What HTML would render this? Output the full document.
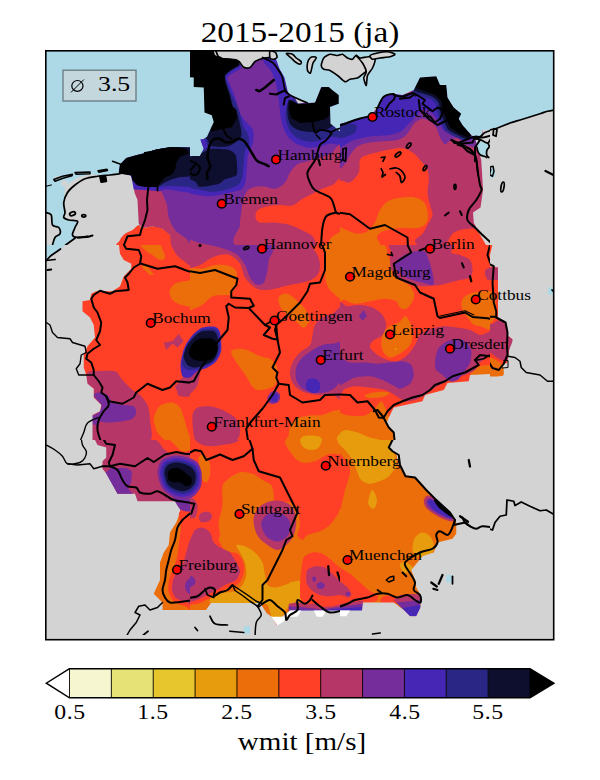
<!DOCTYPE html>
<html><head><meta charset="utf-8"><title>map</title>
<style>
html,body{margin:0;padding:0;background:#fff;}
body{width:600px;height:780px;position:relative;overflow:hidden;font-family:"Liberation Serif",serif;color:#000;}
#ttl{transform:scaleX(1.147);transform-origin:50% 50%;position:absolute;left:0.3px;width:600px;top:17.3px;text-align:center;font-size:29px;letter-spacing:0px;line-height:30px;white-space:nowrap;}
svg{position:absolute;left:0;top:0;}
.tk{transform:scaleX(1.17);transform-origin:50% 50%;position:absolute;top:701.3px;width:60px;text-align:center;font-size:20.3px;letter-spacing:0.5px;line-height:22px;}
#lab{transform:scaleX(1.118);transform-origin:50% 50%;position:absolute;left:1.5px;width:600px;top:727.2px;text-align:center;font-size:26px;letter-spacing:0px;line-height:30px;}
#box{position:absolute;left:63.9px;top:71.1px;width:71.2px;height:29.0px;}
#box span{position:absolute;top:1.4px;line-height:24px;font-size:21.5px;white-space:nowrap;}
.ct{font-family:"Liberation Serif",serif;font-size:15px;letter-spacing:0px;}
</style></head><body>
<div id="ttl">2015-2015 (ja)</div>
<svg width="600" height="780" viewBox="0 0 600 780">
<defs><clipPath id="ax"><rect x="45.8" y="50.8" width="507.9" height="588.9"/></clipPath></defs>
<g clip-path="url(#ax)">
<rect x="40" y="45" width="520" height="600" fill="#d3d3d3"/>
<clipPath id="t1"><rect x="40" y="50" width="150" height="195"/></clipPath><g clip-path="url(#t1)"><rect x="40" y="50" width="150" height="195" fill="#add8e6"/><g transform="translate(40,50) scale(0.25)"><path d="M100.0 545.0 L150.0 510.0 L200.0 497.0 L260.0 503.0 L330.0 495.0 L375.0 505.0 L385.0 570.0 L395.0 600.0 L395.0 790.0 L80.0 790.0 L141.0 752.0 L130.0 740.0 L145.0 700.0 L150.0 685.0 L100.0 675.0 L95.0 610.0Z" fill="#d3d3d3" stroke="none" stroke-width="0" />
<path d="M25.0 650.0 L45.0 660.0 L50.0 700.0 L75.0 710.0 L80.0 735.0 L60.0 750.0 L50.0 780.0 L25.0 780.0Z" fill="#d3d3d3" stroke="none" stroke-width="0" />
<rect x="85" y="522" width="25" height="22" fill="#d3d3d3"/>
<rect x="60" y="505" width="20" height="12" fill="#d3d3d3"/>
<path d="M395.0 700.0 C401.7 698.7 400.8 711.2 410.0 712.0 C419.2 712.8 436.7 704.5 450.0 705.0 C463.3 705.5 478.3 709.2 490.0 715.0 C501.7 720.8 513.3 727.5 520.0 740.0 C526.7 752.5 563.3 781.7 530.0 790.0 C496.7 798.3 355.0 795.0 320.0 790.0 C285.0 785.0 316.7 769.2 320.0 760.0 C323.3 750.8 331.7 741.7 340.0 735.0 C348.3 728.3 360.8 725.8 370.0 720.0 C379.2 714.2 388.3 701.3 395.0 700.0Z" fill="#ff4026" stroke="none" stroke-width="0" />
<path d="M375.0 545.0 L480.0 545.0 L610.0 545.0 L610.0 785.0 L525.0 785.0 L520.0 740.0 L490.0 715.0 L450.0 705.0 L410.0 712.0 L395.0 695.0 L390.0 600.0 L378.0 570.0Z" fill="#b53667" stroke="none" stroke-width="0" />
<path d="M478.0 555.0 C482.3 551.0 509.1 544.0 520.0 540.0 C530.9 536.0 546.7 526.3 560.0 525.0 C573.3 523.7 612.0 496.7 620.0 530.0 C628.0 563.3 625.3 745.7 620.0 775.0 C614.7 804.3 590.7 757.3 580.0 750.0 C569.3 742.7 548.7 730.7 540.0 720.0 C531.3 709.3 519.3 683.3 515.0 670.0 C510.7 656.7 510.0 629.3 508.0 620.0 C506.0 610.7 502.7 606.7 500.0 600.0 C497.3 593.3 490.9 576.0 488.0 570.0 C485.1 564.0 473.7 559.0 478.0 555.0Z" fill="#762d9c" stroke="none" stroke-width="0" />
<path d="M315.0 490.0 L320.0 458.0 L345.0 432.0 L380.0 422.0 L420.0 412.0 L465.0 398.0 L525.0 388.0 L610.0 390.0 L610.0 572.0 L560.0 566.0 L530.0 560.0 L500.0 557.0 L478.0 565.0 L420.0 560.0 L375.0 558.0 L368.0 520.0 L363.0 502.0Z" fill="#4626b4" stroke="none" stroke-width="0" />
<path d="M470.0 550.0 L490.0 546.0 L520.0 544.0 L560.0 546.0 L610.0 547.0 L610.0 390.0 L525.0 388.0 L465.0 398.0 L420.0 412.0 L420.0 545.0Z" fill="#2a2685" stroke="none" stroke-width="0" />
<path d="M475.0 545.0 L495.0 532.0 L525.0 518.0 L560.0 508.0 L610.0 506.0 L610.0 390.0 L525.0 388.0 L465.0 398.0 L420.0 412.0 L420.0 545.0Z" fill="#0e0e2e" stroke="none" stroke-width="0" />
<path d="M315.0 490.0 L320.0 458.0 L345.0 432.0 L380.0 422.0 L420.0 412.0 L465.0 398.0 L525.0 388.0 L585.0 393.0 L595.0 415.0 L562.0 426.0 L546.0 448.0 L540.0 480.0 L525.0 500.0 L500.0 510.0 L480.0 532.0 L470.0 548.0 L420.0 548.0 L390.0 542.0 L370.0 522.0 L365.0 502.0 L320.0 495.0Z" fill="#000000" stroke="none" stroke-width="0" />
<path d="M435 540 L432 560 L428 600 L430 640 L420 680 L405 720 L400 740 L350 745 L335 782" fill="none" stroke="#000" stroke-width="8" stroke-linejoin="round" stroke-linecap="round"/>
<path d="M470 540 L470 562" fill="none" stroke="#000" stroke-width="7" stroke-linejoin="round" stroke-linecap="round"/>
<path d="M320.0 495.0 C313.3 495.8 295.0 498.3 280.0 500.0 C265.0 501.7 246.7 502.5 230.0 505.0 C213.3 507.5 195.0 509.2 180.0 515.0 C165.0 520.8 151.7 530.8 140.0 540.0 C128.3 549.2 117.5 558.3 110.0 570.0 C102.5 581.7 96.7 596.7 95.0 610.0 C93.3 623.3 100.0 640.0 100.0 650.0 C100.0 660.0 92.5 665.0 95.0 670.0 C97.5 675.0 105.8 677.5 115.0 680.0 C124.2 682.5 145.8 680.0 150.0 685.0 C154.2 690.0 143.3 700.8 140.0 710.0 C136.7 719.2 128.3 733.3 130.0 740.0 C131.7 746.7 140.0 749.2 150.0 750.0 C160.0 750.8 183.3 745.8 190.0 745.0" fill="none" stroke="#000" stroke-width="7" stroke-linejoin="round" stroke-linecap="round"/>
<path d="M240 505 L262 508 L265 525 L245 528Z" fill="#000" stroke="#000" stroke-width="8" stroke-linejoin="round" stroke-linecap="round"/>
<path d="M25 545 L45 540" fill="none" stroke="#000" stroke-width="5" stroke-linejoin="round" stroke-linecap="round"/>
<path d="M290 445 L325 458" fill="none" stroke="#000" stroke-width="6" stroke-linejoin="round" stroke-linecap="round"/>
<path d="M55 518 L90 505 L130 497 L128 503 L95 512 L60 525Z" fill="none" stroke="#000" stroke-width="6" stroke-linejoin="round" stroke-linecap="round"/>
<path d="M140 490 L200 488 L200 495 L145 497Z" fill="none" stroke="#000" stroke-width="6" stroke-linejoin="round" stroke-linecap="round"/>
<path d="M232 483 L268 477 L270 482 L235 489Z" fill="none" stroke="#000" stroke-width="6" stroke-linejoin="round" stroke-linecap="round"/>
<path d="M418 410 L452 405 L452 410 L420 414Z" fill="none" stroke="#000" stroke-width="5" stroke-linejoin="round" stroke-linecap="round"/>
<ellipse cx="130" cy="655" rx="12" ry="7" transform="rotate(-20 130 655)" fill="none" stroke="#000" stroke-width="7"/>
<ellipse cx="175" cy="663" rx="8" ry="5" transform="rotate(0 175 663)" fill="none" stroke="#000" stroke-width="7"/>
<path d="M25.0 650.0 C28.3 651.7 40.8 651.7 45.0 660.0 C49.2 668.3 45.0 691.7 50.0 700.0 C55.0 708.3 70.0 704.2 75.0 710.0 C80.0 715.8 82.5 728.3 80.0 735.0 C77.5 741.7 65.0 742.5 60.0 750.0 C55.0 757.5 51.7 775.0 50.0 780.0" fill="none" stroke="#000" stroke-width="7" stroke-linejoin="round" stroke-linecap="round"/>
<path d="M150 750 L190 748 L210 742" fill="none" stroke="#000" stroke-width="8" stroke-linejoin="round" stroke-linecap="round"/>
<path d="M141 752 L108 776 L78 800" fill="none" stroke="#000" stroke-width="7" stroke-linejoin="round" stroke-linecap="round"/></g></g>
<clipPath id="t2"><rect x="190" y="50" width="150" height="195"/></clipPath><g clip-path="url(#t2)"><rect x="190" y="50" width="150" height="195" fill="#762d9c"/><g transform="translate(190,50) scale(0.25)"><path d="M610.0 405.0 C601.7 343.0 575.0 413.8 560.0 418.0 C545.0 422.2 535.0 425.5 520.0 430.0 C505.0 434.5 485.0 440.5 470.0 445.0 C455.0 449.5 441.7 449.5 430.0 457.0 C418.3 464.5 408.3 477.8 400.0 490.0 C391.7 502.2 390.0 519.2 380.0 530.0 C370.0 540.8 355.0 552.5 340.0 555.0 C325.0 557.5 306.7 545.0 290.0 545.0 C273.3 545.0 252.5 547.5 240.0 555.0 C227.5 562.5 220.8 574.2 215.0 590.0 C209.2 605.8 207.5 631.7 205.0 650.0 C202.5 668.3 200.0 676.7 200.0 700.0 C200.0 723.3 136.7 775.0 205.0 790.0 C273.3 805.0 542.5 854.2 610.0 790.0 C677.5 725.8 618.3 467.0 610.0 405.0Z" fill="#b53667" stroke="none" stroke-width="0" />
<path d="M610.0 533.0 C603.3 491.3 583.3 536.3 570.0 540.0 C556.7 543.7 543.3 549.2 530.0 555.0 C516.7 560.8 503.3 568.3 490.0 575.0 C476.7 581.7 463.3 587.2 450.0 595.0 C436.7 602.8 425.0 617.8 410.0 622.0 C395.0 626.2 376.7 619.5 360.0 620.0 C343.3 620.5 324.7 621.7 310.0 625.0 C295.3 628.3 280.0 632.8 272.0 640.0 C264.0 647.2 260.7 659.7 262.0 668.0 C263.3 676.3 267.0 686.3 280.0 690.0 C293.0 693.7 320.0 688.3 340.0 690.0 C360.0 691.7 381.7 694.7 400.0 700.0 C418.3 705.3 435.0 714.5 450.0 722.0 C465.0 729.5 478.3 733.7 490.0 745.0 C501.7 756.3 500.0 782.5 520.0 790.0 C540.0 797.5 595.0 832.8 610.0 790.0 C625.0 747.2 616.7 574.7 610.0 533.0Z" fill="#ff4026" stroke="none" stroke-width="0" />
<path d="M555.0 790.0 C547.0 784.2 557.0 763.8 562.0 755.0 C567.0 746.2 577.0 741.2 585.0 737.0 C593.0 732.8 605.8 721.2 610.0 730.0 C614.2 738.8 619.2 780.0 610.0 790.0 C600.8 800.0 563.0 795.8 555.0 790.0Z" fill="#ec6e0a" stroke="none" stroke-width="0" />
<path d="M-20.0 750.0 L30.0 770.0 L100.0 785.0 L130.0 800.0 L-20.0 800.0Z" fill="#b53667" stroke="none" stroke-width="0" />
<path d="M340.0 15.0 C348.3 22.3 352.9 62.3 358.0 75.0 C363.1 87.7 373.5 97.3 378.0 110.0 C382.5 122.7 387.1 159.3 392.0 170.0 C396.9 180.7 408.6 184.3 415.0 190.0 C421.4 195.7 428.7 210.3 440.0 213.0 C451.3 215.7 488.0 219.1 500.0 210.0 C512.0 200.9 519.3 153.0 530.0 145.0 C540.7 137.0 572.7 140.7 580.0 150.0 C587.3 159.3 581.0 191.0 585.0 215.0 C589.0 239.0 606.7 308.3 610.0 330.0 C613.3 351.7 616.7 372.1 610.0 378.0 C603.3 383.9 572.0 372.8 560.0 374.0 C548.0 375.2 532.0 384.9 520.0 387.0 C508.0 389.1 483.3 392.0 470.0 390.0 C456.7 388.0 431.3 379.1 420.0 372.0 C408.7 364.9 392.3 349.3 385.0 337.0 C377.7 324.7 369.0 298.3 365.0 280.0 C361.0 261.7 357.9 220.0 355.0 200.0 C352.1 180.0 347.4 146.0 343.0 130.0 C338.6 114.0 328.3 90.7 322.0 80.0 C315.7 69.3 299.5 58.0 296.0 50.0 C292.5 42.0 290.1 24.7 296.0 20.0 C301.9 15.3 331.7 7.7 340.0 15.0Z" fill="#4626b4" stroke="none" stroke-width="0" />
<path d="M390.0 215.0 C394.4 205.7 408.3 195.3 415.0 195.0 C421.7 194.7 428.7 211.0 440.0 213.0 C451.3 215.0 488.0 219.1 500.0 210.0 C512.0 200.9 519.3 153.0 530.0 145.0 C540.7 137.0 572.7 140.7 580.0 150.0 C587.3 159.3 581.0 191.0 585.0 215.0 C589.0 239.0 606.7 311.7 610.0 330.0 C613.3 348.3 616.0 349.9 610.0 352.0 C604.0 354.1 577.0 344.5 565.0 346.0 C553.0 347.5 532.7 360.3 520.0 363.0 C507.3 365.7 482.7 367.9 470.0 366.0 C457.3 364.1 435.0 355.8 425.0 349.0 C415.0 342.2 400.7 326.2 395.0 315.0 C389.3 303.8 382.7 278.3 382.0 265.0 C381.3 251.7 385.6 224.3 390.0 215.0Z" fill="#2a2685" stroke="none" stroke-width="0" />
<path d="M395.0 200.0 C400.3 194.0 420.7 213.0 430.0 215.0 C439.3 217.0 455.7 215.7 465.0 215.0 C474.3 214.3 492.0 218.7 500.0 210.0 C508.0 201.3 517.7 158.3 525.0 150.0 C532.3 141.7 545.7 144.0 555.0 148.0 C564.3 152.0 589.7 171.1 595.0 180.0 C600.3 188.9 599.0 208.3 595.0 215.0 C591.0 221.7 567.7 219.3 565.0 230.0 C562.3 240.7 577.7 283.3 575.0 295.0 C572.3 306.7 556.3 313.6 545.0 318.0 C533.7 322.4 504.0 327.5 490.0 328.0 C476.0 328.5 451.3 325.5 440.0 322.0 C428.7 318.5 411.7 310.3 405.0 302.0 C398.3 293.7 391.3 273.6 390.0 260.0 C388.7 246.4 389.7 206.0 395.0 200.0Z" fill="#0e0e2e" stroke="none" stroke-width="0" />
<path d="M500.0 210.0 L525.0 150.0 L555.0 148.0 L575.0 165.0 L595.0 180.0 L595.0 215.0 L560.0 225.0 L557.0 262.0 L540.0 277.0 L500.0 287.0 L440.0 292.0 L405.0 272.0 L395.0 232.0 L400.0 200.0 L430.0 215.0 L465.0 215.0Z" fill="#000000" stroke="none" stroke-width="0" />
<path d="M204.0 72.0 C202.0 78.7 182.2 84.7 175.0 90.0 C167.8 95.3 151.3 104.0 150.0 112.0 C148.7 120.0 160.3 138.3 165.0 150.0 C169.7 161.7 181.3 188.0 185.0 200.0 C188.7 212.0 188.3 228.9 193.0 240.0 C197.7 251.1 212.1 272.3 220.0 283.0 C227.9 293.7 247.7 308.0 252.0 320.0 C256.3 332.0 254.5 360.2 252.0 373.0 C249.5 385.8 236.2 403.9 233.0 416.0 C229.8 428.1 229.3 450.5 228.0 464.0 C226.7 477.5 225.5 504.9 223.0 517.0 C220.5 529.1 217.9 547.8 209.0 555.0 C200.1 562.2 172.3 567.0 156.0 571.0 C139.7 575.0 103.4 583.8 87.0 585.0 C70.6 586.2 47.3 581.9 33.0 580.0 C18.7 578.1 -6.3 573.0 -20.0 571.0 C-33.7 569.0 -63.3 642.5 -70.0 565.0 C-76.7 487.5 -92.7 66.7 -70.0 -10.0 C-47.3 -86.7 73.3 -16.0 100.0 -10.0 C126.7 -4.0 118.0 28.3 130.0 35.0 C142.0 41.7 180.1 35.1 190.0 40.0 C199.9 44.9 206.0 65.3 204.0 72.0Z" fill="#4626b4" stroke="none" stroke-width="0" />
<path d="M193.0 230.0 C197.3 240.9 201.1 261.5 204.0 272.0 C206.9 282.5 211.4 300.5 215.0 309.0 C218.6 317.5 228.2 327.5 231.0 336.0 C233.8 344.5 237.5 363.8 236.0 373.0 C234.5 382.2 222.8 394.3 220.0 405.0 C217.2 415.7 216.5 439.4 215.0 453.0 C213.5 466.6 211.9 495.5 209.0 507.0 C206.1 518.5 202.2 531.9 193.0 539.0 C183.8 546.1 154.1 556.1 140.0 560.0 C125.9 563.9 101.3 568.3 87.0 568.0 C72.7 567.7 47.3 560.8 33.0 558.0 C18.7 555.2 -6.3 549.4 -20.0 547.0 C-33.7 544.6 -63.3 614.3 -70.0 540.0 C-76.7 465.7 -92.7 63.3 -70.0 -10.0 C-47.3 -83.3 73.3 -16.0 100.0 -10.0 C126.7 -4.0 118.0 28.3 130.0 35.0 C142.0 41.7 181.1 36.1 190.0 40.0 C198.9 43.9 199.9 58.1 197.0 64.0 C194.1 69.9 175.1 78.4 168.0 84.0 C160.9 89.6 146.1 98.5 144.0 106.0 C141.9 113.5 148.3 128.8 152.0 140.0 C155.7 151.2 166.5 178.0 172.0 190.0 C177.5 202.0 188.7 219.1 193.0 230.0Z" fill="#2a2685" stroke="none" stroke-width="0" />
<path d="M-20.0 -10.0 C-4.0 -58.0 80.0 -16.0 100.0 -10.0 C120.0 -4.0 118.0 28.3 130.0 35.0 C142.0 41.7 180.9 36.7 190.0 40.0 C199.1 43.3 201.3 54.7 198.0 60.0 C194.7 65.3 172.7 74.4 165.0 80.0 C157.3 85.6 142.7 94.7 140.0 102.0 C137.3 109.3 142.3 124.6 145.0 135.0 C147.7 145.4 156.4 168.0 160.0 180.0 C163.6 192.0 168.7 217.0 172.0 225.0 C175.3 233.0 181.4 230.9 185.0 240.0 C188.6 249.1 196.5 278.7 199.0 293.0 C201.5 307.3 209.7 334.9 204.0 347.0 C198.3 359.1 171.6 379.1 156.0 384.0 C140.4 388.9 99.8 388.5 87.0 384.0 C74.2 379.5 74.3 354.5 60.0 350.0 C45.7 345.5 -9.3 398.0 -20.0 350.0 C-30.7 302.0 -36.0 38.0 -20.0 -10.0Z" fill="#0e0e2e" stroke="none" stroke-width="0" />
<path d="M-20.0 427.0 C-17.2 417.1 -8.2 429.1 1.0 427.0 C10.2 424.9 37.5 415.3 49.0 411.0 C60.5 406.7 72.7 396.5 87.0 395.0 C101.3 393.5 143.2 396.5 156.0 400.0 C168.8 403.5 178.7 412.5 183.0 421.0 C187.3 429.5 187.7 453.3 188.0 464.0 C188.3 474.7 191.4 493.9 185.0 501.0 C178.6 508.1 149.6 512.3 140.0 517.0 C130.4 521.7 126.5 532.0 113.0 536.0 C99.5 540.0 51.0 548.1 39.0 547.0 C27.0 545.9 30.9 534.1 23.0 528.0 C15.1 521.9 -14.3 514.5 -20.0 501.0 C-25.7 487.5 -22.8 436.9 -20.0 427.0Z" fill="#0e0e2e" stroke="none" stroke-width="0" />
<path d="M-20.0 -10.0 L100.0 -10.0 L130.0 35.0 L190.0 40.0 L196.0 60.0 L162.0 80.0 L138.0 102.0 L142.0 135.0 L157.0 180.0 L168.0 225.0 L185.0 240.0 L188.0 272.0 L167.0 309.0 L140.0 315.0 L113.0 320.0 L87.0 325.0 L79.0 315.0 L-20.0 315.0Z" fill="#000000" stroke="none" stroke-width="0" />
<path d="M-20.0 108.0 L15.0 110.0 L15.0 148.0 L55.0 150.0 L58.0 250.0 L87.0 261.0 L95.0 288.0 L68.0 347.0 L44.0 363.0 L55.0 395.0 L39.0 424.0 L1.0 424.0 L-20.0 424.0Z" fill="#add8e6" stroke="none" stroke-width="0" />
<path d="M41.0 357.0 L62.0 357.0 L72.0 392.0 L55.0 395.0Z" fill="#4626b4" stroke="none" stroke-width="0" />
<path d="M350.0 -10.0 L610.0 -10.0 L610.0 335.0 L572.0 302.0 L562.0 295.0 L560.0 228.0 L595.0 215.0 L595.0 180.0 L575.0 165.0 L555.0 148.0 L525.0 148.0 L500.0 210.0 L470.0 212.0 L415.0 187.0 L392.0 170.0 L378.0 110.0 L358.0 75.0 L340.0 25.0Z" fill="#add8e6" stroke="none" stroke-width="0" />
<path d="M90.0 -10.0 L100.0 20.0 L130.0 35.0 L190.0 40.0 L210.0 70.0 L240.0 72.0 L260.0 45.0 L300.0 30.0 L340.0 25.0 L350.0 -10.0Z" fill="#d3d3d3" stroke="none" stroke-width="0" />
<path d="M418.0 188.0 L470.0 210.0 L432.0 214.0Z" fill="#d3d3d3" stroke="none" stroke-width="0" />
<path d="M130.0 35.0 C140.0 36.2 176.2 36.5 190.0 42.0 C203.8 47.5 204.7 63.3 213.0 68.0 C221.3 72.7 231.8 73.8 240.0 70.0 C248.2 66.2 252.0 51.3 262.0 45.0 C272.0 38.7 287.0 34.8 300.0 32.0 C313.0 29.2 333.3 28.7 340.0 28.0" fill="none" stroke="#000" stroke-width="7" stroke-linejoin="round" stroke-linecap="round"/>
<path d="M100 -5 L112 25 L130 35" fill="none" stroke="#000" stroke-width="7" stroke-linejoin="round" stroke-linecap="round"/>
<path d="M290.0 30.0 C296.7 33.3 320.0 42.5 330.0 50.0 C340.0 57.5 343.7 65.8 350.0 75.0 C356.3 84.2 363.3 92.5 368.0 105.0 C372.7 117.5 374.7 138.8 378.0 150.0 C381.3 161.2 381.8 165.7 388.0 172.0 C394.2 178.3 401.3 181.3 415.0 188.0 C428.7 194.7 460.8 208.0 470.0 212.0" fill="none" stroke="#000" stroke-width="7" stroke-linejoin="round" stroke-linecap="round"/>
<path d="M265 160 L278 165 L300 150 L335 120" fill="none" stroke="#000" stroke-width="10" stroke-linejoin="round" stroke-linecap="round"/>
<path d="M320 175 L345 178 L378 162 L390 172" fill="none" stroke="#000" stroke-width="9" stroke-linejoin="round" stroke-linecap="round"/>
<path d="M375 218 L380 192 L395 186" fill="none" stroke="#000" stroke-width="8" stroke-linejoin="round" stroke-linecap="round"/>
<path d="M70.0 517.0 C69.7 512.7 66.2 499.8 68.0 491.0 C69.8 482.2 80.7 474.7 81.0 464.0 C81.3 453.3 70.3 441.2 70.0 427.0 C69.7 412.8 74.8 390.7 79.0 379.0 C83.2 367.3 88.3 361.0 95.0 357.0 C101.7 353.0 111.5 353.2 119.0 355.0 C126.5 356.8 132.0 365.8 140.0 368.0 C148.0 370.2 158.2 370.2 167.0 368.0 C175.8 365.8 185.0 355.8 193.0 355.0 C201.0 354.2 208.7 358.2 215.0 363.0 C221.3 367.8 225.7 376.0 231.0 384.0 C236.3 392.0 240.8 401.2 247.0 411.0 C253.2 420.8 259.2 435.3 268.0 443.0 C276.8 450.7 292.2 453.3 300.0 457.0 C307.8 460.7 312.5 463.7 315.0 465.0" fill="none" stroke="#000" stroke-width="10" stroke-linejoin="round" stroke-linecap="round"/>
<path d="M135 320 L145 341 L167 357" fill="none" stroke="#000" stroke-width="8" stroke-linejoin="round" stroke-linecap="round"/>
<path d="M-20.0 432.0 C-16.5 433.8 -6.2 439.5 1.0 443.0 C8.2 446.5 16.7 448.7 23.0 453.0 C29.3 457.3 37.3 462.7 39.0 469.0 C40.7 475.3 36.7 485.7 33.0 491.0 C29.3 496.3 23.2 501.5 17.0 501.0 C10.8 500.5 -2.3 492.3 -4.0 488.0 C-5.7 483.7 2.2 480.8 7.0 475.0 C11.8 469.2 22.0 456.7 25.0 453.0" fill="none" stroke="#000" stroke-width="8" stroke-linejoin="round" stroke-linecap="round"/>
<path d="M490.0 290.0 C491.7 296.7 495.0 325.0 500.0 330.0 C505.0 335.0 510.8 320.8 520.0 320.0 C529.2 319.2 547.5 322.5 555.0 325.0 C562.5 327.5 567.5 328.3 565.0 335.0 C562.5 341.7 547.5 357.5 540.0 365.0 C532.5 372.5 526.7 367.5 520.0 380.0 C513.3 392.5 508.3 421.7 500.0 440.0 C491.7 458.3 473.3 475.0 470.0 490.0 C466.7 505.0 475.0 518.3 480.0 530.0 C485.0 541.7 486.7 550.0 500.0 560.0 C513.3 570.0 547.5 580.0 560.0 590.0 C572.5 600.0 570.8 610.0 575.0 620.0 C579.2 630.0 580.0 644.0 585.0 650.0 C590.0 656.0 601.7 655.0 605.0 656.0" fill="none" stroke="#000" stroke-width="8" stroke-linejoin="round" stroke-linecap="round"/>
<path d="M585.0 650.0 C578.3 652.5 554.2 655.0 545.0 665.0 C535.8 675.0 533.5 690.0 530.0 710.0 C526.5 730.0 525.0 772.5 524.0 785.0" fill="none" stroke="#000" stroke-width="8" stroke-linejoin="round" stroke-linecap="round"/>
<path d="M505 340 L520 355" fill="none" stroke="#000" stroke-width="7" stroke-linejoin="round" stroke-linecap="round"/>
<path d="M515 440 L520 460" fill="none" stroke="#000" stroke-width="9" stroke-linejoin="round" stroke-linecap="round"/>
<path d="M560 330 L585 318 L610 310" fill="none" stroke="#000" stroke-width="7" stroke-linejoin="round" stroke-linecap="round"/>
<ellipse cx="40" cy="782" rx="5" ry="5" transform="rotate(0 40 782)" fill="#000" stroke="#000" stroke-width="3"/></g></g>
<clipPath id="t3"><rect x="340" y="50" width="150" height="195"/></clipPath><g clip-path="url(#t3)"><rect x="340" y="50" width="150" height="195" fill="#b53667"/><g transform="translate(340,50) scale(0.25)"><path d="M-10.0 545.0 C-1.7 500.8 25.8 539.2 40.0 530.0 C54.2 520.8 68.3 505.0 75.0 490.0 C81.7 475.0 74.2 451.7 80.0 440.0 C85.8 428.3 90.0 427.0 110.0 420.0 C130.0 413.0 176.7 402.5 200.0 398.0 C223.3 393.5 235.0 391.0 250.0 393.0 C265.0 395.0 277.5 401.3 290.0 410.0 C302.5 418.7 315.0 433.3 325.0 445.0 C335.0 456.7 345.0 467.5 350.0 480.0 C355.0 492.5 355.0 505.0 355.0 520.0 C355.0 535.0 349.2 553.3 350.0 570.0 C350.8 586.7 356.7 605.0 360.0 620.0 C363.3 635.0 371.7 646.7 370.0 660.0 C368.3 673.3 356.7 687.5 350.0 700.0 C343.3 712.5 338.3 725.0 330.0 735.0 C321.7 745.0 307.5 750.0 300.0 760.0 C292.5 770.0 336.7 789.2 285.0 795.0 C233.3 800.8 39.2 836.7 -10.0 795.0 C-59.2 753.3 -18.3 589.2 -10.0 545.0Z" fill="#ff4026" stroke="none" stroke-width="0" />
<path d="M440.0 790.0 C415.0 782.0 438.3 753.7 445.0 742.0 C451.7 730.3 464.2 724.5 480.0 720.0 C495.8 715.5 524.2 711.7 540.0 715.0 C555.8 718.3 565.8 727.5 575.0 740.0 C584.2 752.5 617.5 781.7 595.0 790.0 C572.5 798.3 465.0 798.0 440.0 790.0Z" fill="#ff4026" stroke="none" stroke-width="0" />
<path d="M-10.0 712.0 C-3.3 700.7 16.7 718.2 30.0 722.0 C43.3 725.8 56.7 734.5 70.0 735.0 C83.3 735.5 98.3 732.5 110.0 725.0 C121.7 717.5 131.7 704.2 140.0 690.0 C148.3 675.8 150.8 654.5 160.0 640.0 C169.2 625.5 180.0 611.3 195.0 603.0 C210.0 594.7 232.5 592.2 250.0 590.0 C267.5 587.8 285.8 587.0 300.0 590.0 C314.2 593.0 326.7 598.8 335.0 608.0 C343.3 617.2 348.0 631.3 350.0 645.0 C352.0 658.7 353.7 678.8 347.0 690.0 C340.3 701.2 326.2 708.3 310.0 712.0 C293.8 715.7 268.3 711.0 250.0 712.0 C231.7 713.0 214.2 715.3 200.0 718.0 C185.8 720.7 173.7 723.0 165.0 728.0 C156.3 733.0 150.5 737.7 148.0 748.0 C145.5 758.3 176.3 783.0 150.0 790.0 C123.7 797.0 16.7 803.0 -10.0 790.0 C-36.7 777.0 -16.7 723.3 -10.0 712.0Z" fill="#ec6e0a" stroke="none" stroke-width="0" />
<path d="M-10.0 290.0 C-0.7 264.7 42.7 283.3 60.0 280.0 C77.3 276.7 108.0 271.7 120.0 265.0 C132.0 258.3 142.7 240.7 150.0 230.0 C157.3 219.3 166.3 192.3 175.0 185.0 C183.7 177.7 205.0 175.7 215.0 175.0 C225.0 174.3 240.0 181.3 250.0 180.0 C260.0 178.7 280.0 174.3 290.0 165.0 C300.0 155.7 312.3 118.0 325.0 110.0 C337.7 102.0 371.0 99.7 385.0 105.0 C399.0 110.3 422.7 136.0 430.0 150.0 C437.3 164.0 434.7 196.7 440.0 210.0 C445.3 223.3 463.3 238.0 470.0 250.0 C476.7 262.0 483.3 288.0 490.0 300.0 C496.7 312.0 512.3 333.3 520.0 340.0 C527.7 346.7 544.3 343.6 548.0 350.0 C551.7 356.4 554.4 384.3 548.0 388.0 C541.6 391.7 510.4 382.8 500.0 378.0 C489.6 373.2 478.0 354.1 470.0 352.0 C462.0 349.9 446.7 358.7 440.0 362.0 C433.3 365.3 425.3 378.6 420.0 377.0 C414.7 375.4 404.7 358.9 400.0 350.0 C395.3 341.1 390.3 318.7 385.0 310.0 C379.7 301.3 367.3 289.7 360.0 285.0 C352.7 280.3 338.0 274.3 330.0 275.0 C322.0 275.7 306.7 284.0 300.0 290.0 C293.3 296.0 285.3 312.7 280.0 320.0 C274.7 327.3 266.7 339.7 260.0 345.0 C253.3 350.3 240.7 357.3 230.0 360.0 C219.3 362.7 194.7 363.7 180.0 365.0 C165.3 366.3 134.7 367.3 120.0 370.0 C105.3 372.7 80.7 378.3 70.0 385.0 C59.3 391.7 46.7 410.7 40.0 420.0 C33.3 429.3 26.7 448.3 20.0 455.0 C13.3 461.7 -6.0 492.0 -10.0 470.0 C-14.0 448.0 -19.3 315.3 -10.0 290.0Z" fill="#762d9c" stroke="none" stroke-width="0" />
<path d="M-10.0 290.0 C-0.7 275.3 42.7 283.3 60.0 280.0 C77.3 276.7 108.0 271.7 120.0 265.0 C132.0 258.3 142.7 240.7 150.0 230.0 C157.3 219.3 166.3 192.3 175.0 185.0 C183.7 177.7 205.0 175.7 215.0 175.0 C225.0 174.3 240.0 181.3 250.0 180.0 C260.0 178.7 280.0 174.3 290.0 165.0 C300.0 155.7 312.3 118.0 325.0 110.0 C337.7 102.0 371.0 99.7 385.0 105.0 C399.0 110.3 422.7 136.0 430.0 150.0 C437.3 164.0 434.7 196.7 440.0 210.0 C445.3 223.3 463.3 238.0 470.0 250.0 C476.7 262.0 483.3 288.0 490.0 300.0 C496.7 312.0 514.0 333.1 520.0 340.0 C526.0 346.9 537.7 349.1 535.0 352.0 C532.3 354.9 508.7 364.0 500.0 362.0 C491.3 360.0 478.0 341.0 470.0 337.0 C462.0 333.0 447.3 334.0 440.0 332.0 C432.7 330.0 421.0 327.6 415.0 322.0 C409.0 316.4 400.3 298.3 395.0 290.0 C389.7 281.7 381.0 266.7 375.0 260.0 C369.0 253.3 357.3 242.0 350.0 240.0 C342.7 238.0 327.3 240.3 320.0 245.0 C312.7 249.7 301.7 267.7 295.0 275.0 C288.3 282.3 276.7 293.3 270.0 300.0 C263.3 306.7 254.3 319.7 245.0 325.0 C235.7 330.3 216.7 337.2 200.0 340.0 C183.3 342.8 140.0 343.1 120.0 346.0 C100.0 348.9 67.3 356.1 50.0 362.0 C32.7 367.9 -2.0 399.6 -10.0 390.0 C-18.0 380.4 -19.3 304.7 -10.0 290.0Z" fill="#4626b4" stroke="none" stroke-width="0" />
<path d="M290.0 165.0 C289.0 157.3 310.5 116.0 320.0 110.0 C329.5 104.0 377.0 102.0 385.0 105.0 C393.0 108.0 396.0 136.5 400.0 140.0 C404.0 143.5 422.0 135.0 425.0 140.0 C428.0 145.0 427.0 181.0 430.0 190.0 C433.0 199.0 449.5 223.5 455.0 230.0 C460.5 236.5 483.0 250.5 485.0 255.0 C487.0 259.5 474.5 270.5 475.0 275.0 C475.5 279.5 485.0 293.5 490.0 300.0 C495.0 306.5 524.0 333.8 525.0 340.0 C526.0 346.2 506.5 361.3 500.0 362.0 C493.5 362.7 467.5 350.5 460.0 347.0 C452.5 343.5 430.5 333.0 425.0 327.0 C419.5 321.0 408.5 294.5 405.0 287.0 C401.5 279.5 392.0 259.0 390.0 252.0 C388.0 245.0 387.5 222.5 385.0 217.0 C382.5 211.5 370.5 200.0 365.0 197.0 C359.5 194.0 337.5 190.2 330.0 187.0 C322.5 183.8 291.0 172.7 290.0 165.0Z" fill="#2a2685" stroke="none" stroke-width="0" />
<path d="M-10.0 300.0 C-3.3 290.8 17.5 295.0 30.0 295.0 C42.5 295.0 60.0 294.2 65.0 300.0 C70.0 305.8 65.8 322.5 60.0 330.0 C54.2 337.5 41.7 341.7 30.0 345.0 C18.3 348.3 -3.3 357.5 -10.0 350.0 C-16.7 342.5 -16.7 309.2 -10.0 300.0Z" fill="#2a2685" stroke="none" stroke-width="0" />
<path d="M295.0 160.0 C293.5 153.5 311.0 115.5 320.0 110.0 C329.0 104.5 377.0 102.0 385.0 105.0 C393.0 108.0 396.0 136.5 400.0 140.0 C404.0 143.5 422.0 135.0 425.0 140.0 C428.0 145.0 427.0 181.0 430.0 190.0 C433.0 199.0 449.5 223.5 455.0 230.0 C460.5 236.5 483.0 250.5 485.0 255.0 C487.0 259.5 474.5 270.5 475.0 275.0 C475.5 279.5 485.0 293.5 490.0 300.0 C495.0 306.5 523.5 334.5 525.0 340.0 C526.5 345.5 511.0 355.2 505.0 355.0 C499.0 354.8 472.3 341.7 465.0 338.0 C457.7 334.3 437.0 323.8 432.0 318.0 C427.0 312.2 418.2 287.3 415.0 280.0 C411.8 272.7 402.0 252.0 400.0 245.0 C398.0 238.0 397.8 215.7 395.0 210.0 C392.2 204.3 378.0 191.5 372.0 188.0 C366.0 184.5 342.7 177.8 335.0 175.0 C327.3 172.2 296.5 166.5 295.0 160.0Z" fill="#0e0e2e" stroke="none" stroke-width="0" />
<path d="M300.0 150.0 L320.0 110.0 L385.0 105.0 L400.0 140.0 L425.0 140.0 L430.0 190.0 L455.0 230.0 L485.0 255.0 L475.0 275.0 L490.0 300.0 L525.0 340.0 L510.0 350.0 L470.0 330.0 L440.0 310.0 L425.0 275.0 L410.0 240.0 L405.0 205.0 L380.0 180.0 L340.0 165.0Z" fill="#000000" stroke="none" stroke-width="0" />
<path d="M-10.0 -10.0 L610.0 -10.0 L610.0 320.0 L570.0 320.0 L565.0 345.0 L540.0 350.0 L525.0 340.0 L490.0 300.0 L475.0 275.0 L485.0 255.0 L455.0 230.0 L430.0 190.0 L425.0 140.0 L400.0 140.0 L385.0 105.0 L320.0 110.0 L295.0 160.0 L250.0 180.0 L215.0 175.0 L175.0 185.0 L150.0 230.0 L120.0 265.0 L60.0 280.0 L20.0 290.0 L-10.0 300.0Z" fill="#add8e6" stroke="none" stroke-width="0" />
<path d="M570.0 320.0 L610.0 320.0 L610.0 790.0 L590.0 790.0 L555.0 730.0 L535.0 690.0 L532.0 650.0 L562.0 630.0 L572.0 560.0 L565.0 440.0 L548.0 380.0 L540.0 350.0 L570.0 345.0Z" fill="#d3d3d3" stroke="none" stroke-width="0" />
<path d="M548.0 377.0 L557.0 370.0 L567.0 367.0 L580.0 368.0 L593.0 380.0 L595.0 393.0 L587.0 403.0 L587.0 423.0 L580.0 427.0 L560.0 420.0 L552.0 407.0 L548.0 390.0Z" fill="#add8e6" stroke="none" stroke-width="0" />
<path d="M-10.0 303.0 C-5.0 301.7 8.3 298.8 20.0 295.0 C31.7 291.2 43.3 285.0 60.0 280.0 C76.7 275.0 107.2 266.3 120.0 265.0 C132.8 263.7 134.2 270.8 137.0 272.0" fill="none" stroke="#000" stroke-width="8" stroke-linejoin="round" stroke-linecap="round"/>
<path d="M150.0 232.0 C154.2 224.5 164.2 196.3 175.0 187.0 C185.8 177.7 208.0 174.7 215.0 176.0 C222.0 177.3 220.0 188.5 217.0 195.0 C214.0 201.5 202.8 207.5 197.0 215.0 C191.2 222.5 184.5 235.8 182.0 240.0" fill="none" stroke="#000" stroke-width="8" stroke-linejoin="round" stroke-linecap="round"/>
<path d="M215.0 180.0 C220.8 181.0 237.5 187.3 250.0 186.0 C262.5 184.7 281.3 172.7 290.0 172.0 C298.7 171.3 300.0 180.3 302.0 182.0" fill="none" stroke="#000" stroke-width="8" stroke-linejoin="round" stroke-linecap="round"/>
<path d="M450.0 362.0 C453.3 363.7 458.3 373.7 470.0 372.0 C481.7 370.3 507.5 356.3 520.0 352.0 C532.5 347.7 536.7 346.3 545.0 346.0 C553.3 345.7 559.2 351.0 570.0 350.0 C580.8 349.0 603.3 341.7 610.0 340.0" fill="none" stroke="#000" stroke-width="8" stroke-linejoin="round" stroke-linecap="round"/>
<path d="M455.0 370.0 C462.5 372.5 485.8 376.7 500.0 385.0 C514.2 393.3 531.7 404.2 540.0 420.0 C548.3 435.8 546.7 460.0 550.0 480.0 C553.3 500.0 557.3 526.7 560.0 540.0 C562.7 553.3 568.5 550.0 566.0 560.0 C563.5 570.0 553.5 586.7 545.0 600.0 C536.5 613.3 520.8 626.7 515.0 640.0 C509.2 653.3 505.8 668.3 510.0 680.0 C514.2 691.7 530.0 700.0 540.0 710.0 C550.0 720.0 559.2 729.7 570.0 740.0 C580.8 750.3 599.2 766.7 605.0 772.0" fill="none" stroke="#000" stroke-width="8" stroke-linejoin="round" stroke-linecap="round"/>
<path d="M470.0 380.0 C478.3 382.5 507.5 385.0 520.0 395.0 C532.5 405.0 539.7 422.5 545.0 440.0 C550.3 457.5 550.8 490.0 552.0 500.0" fill="none" stroke="#000" stroke-width="7" stroke-linejoin="round" stroke-linecap="round"/>
<path d="M-10 650 L40 657 L120 715 L180 700 L270 750 L272 790" fill="none" stroke="#000" stroke-width="8" stroke-linejoin="round" stroke-linecap="round"/>
<ellipse cx="275" cy="382" rx="12" ry="6" transform="rotate(-50 275 382)" fill="none" stroke="#000" stroke-width="7"/>
<ellipse cx="232" cy="418" rx="14" ry="6" transform="rotate(-40 232 418)" fill="none" stroke="#000" stroke-width="7"/>
<ellipse cx="340" cy="472" rx="12" ry="5" transform="rotate(-60 340 472)" fill="none" stroke="#000" stroke-width="7"/>
<ellipse cx="460" cy="547" rx="4" ry="10" transform="rotate(0 460 547)" fill="none" stroke="#000" stroke-width="7"/>
<path d="M165 430 L180 428 L172 445" fill="none" stroke="#000" stroke-width="7" stroke-linejoin="round" stroke-linecap="round"/>
<path d="M165 475 L172 490 L168 508 L182 498" fill="none" stroke="#000" stroke-width="7" stroke-linejoin="round" stroke-linecap="round"/>
<path d="M200.0 475.0 C204.2 474.5 217.5 470.8 225.0 472.0 C232.5 473.2 239.2 475.7 245.0 482.0 C250.8 488.3 260.0 502.0 260.0 510.0 C260.0 518.0 248.3 530.8 245.0 530.0 C241.7 529.2 243.3 511.7 240.0 505.0 C236.7 498.3 227.5 492.5 225.0 490.0" fill="none" stroke="#000" stroke-width="7" stroke-linejoin="round" stroke-linecap="round"/>
<path d="M420 662 L435 650" fill="none" stroke="#000" stroke-width="8" stroke-linejoin="round" stroke-linecap="round"/>
<path d="M480 645 L487 660" fill="none" stroke="#000" stroke-width="8" stroke-linejoin="round" stroke-linecap="round"/>
<path d="M12 395 L25 392 L22 445 L12 440Z" fill="none" stroke="#000" stroke-width="7" stroke-linejoin="round" stroke-linecap="round"/>
<path d="M240 195 L280 190 L300 175 L340 200 L330 215 L370 245 L390 230 L415 240 L400 275 L380 290 L360 265" fill="none" stroke="#000" stroke-width="8" stroke-linejoin="round" stroke-linecap="round"/>
<path d="M315 200 L320 240 L360 280 L390 300 L430 280" fill="none" stroke="#000" stroke-width="8" stroke-linejoin="round" stroke-linecap="round"/>
<path d="M445 360 L480 375 L530 370 L540 350 L560 360 L540 390 L540 445" fill="none" stroke="#000" stroke-width="8" stroke-linejoin="round" stroke-linecap="round"/>
<path d="M480 375 L510 405 L540 420" fill="none" stroke="#000" stroke-width="8" stroke-linejoin="round" stroke-linecap="round"/>
<path d="M530.0 350.0 C532.8 350.3 541.5 352.8 547.0 352.0 C552.5 351.2 557.5 348.7 563.0 345.0 C568.5 341.3 571.7 334.5 580.0 330.0 C588.3 325.5 607.5 320.0 613.0 318.0" fill="none" stroke="#000" stroke-width="7" stroke-linejoin="round" stroke-linecap="round"/>
<path d="M540.0 355.0 C543.3 355.5 553.8 356.0 560.0 358.0 C566.2 360.0 571.7 364.7 577.0 367.0 C582.3 369.3 588.2 373.2 592.0 372.0 C595.8 370.8 597.0 364.8 600.0 360.0 C603.0 355.2 607.8 349.2 610.0 343.0 C612.2 336.8 612.5 326.3 613.0 323.0" fill="none" stroke="#000" stroke-width="7" stroke-linejoin="round" stroke-linecap="round"/>
<path d="M592.0 372.0 C592.8 374.5 597.7 382.3 597.0 387.0 C596.3 391.7 589.7 394.5 588.0 400.0 C586.3 405.5 585.8 415.0 587.0 420.0 C588.2 425.0 593.7 428.3 595.0 430.0" fill="none" stroke="#000" stroke-width="7" stroke-linejoin="round" stroke-linecap="round"/>
<path d="M548.0 390.0 C548.7 392.8 549.7 402.0 552.0 407.0 C554.3 412.0 557.0 416.7 562.0 420.0 C567.0 423.3 577.8 425.3 582.0 427.0 C586.2 428.7 586.2 429.5 587.0 430.0" fill="none" stroke="#000" stroke-width="7" stroke-linejoin="round" stroke-linecap="round"/></g></g>
<clipPath id="t4"><rect x="490" y="50" width="66" height="195"/></clipPath><g clip-path="url(#t4)"><rect x="490" y="50" width="66" height="195" fill="#d3d3d3"/><g transform="translate(440,50) scale(0.25)"><path d="M150.0 -10.0 L470.0 -10.0 L470.0 238.0 L400.0 255.0 L330.0 275.0 L280.0 290.0 L230.0 310.0 L175.0 318.0 L150.0 325.0Z" fill="#add8e6" stroke="none" stroke-width="0" />
<path d="M198.0 470.0 L215.0 465.0 L222.0 500.0 L210.0 515.0 L198.0 505.0Z" fill="#add8e6" stroke="none" stroke-width="0" />
<path d="M470.0 238.0 C463.3 239.2 441.7 242.2 430.0 245.0 C418.3 247.8 416.7 249.7 400.0 255.0 C383.3 260.3 350.0 270.8 330.0 277.0 C310.0 283.2 296.7 286.2 280.0 292.0 C263.3 297.8 245.0 307.0 230.0 312.0 C215.0 317.0 196.7 320.3 190.0 322.0" fill="none" stroke="#000" stroke-width="7" stroke-linejoin="round" stroke-linecap="round"/>
<path d="M215 315 L228 318 L224 345 L212 340Z" fill="none" stroke="#000" stroke-width="7" stroke-linejoin="round" stroke-linecap="round"/>
<path d="M200 468 L212 465 L216 485 L210 505 L198 498 L203 480Z" fill="none" stroke="#000" stroke-width="6" stroke-linejoin="round" stroke-linecap="round"/>
<ellipse cx="250" cy="548" rx="6" ry="20" transform="rotate(10 250 548)" fill="none" stroke="#000" stroke-width="7"/>
<path d="M422 484 L458 502" fill="none" stroke="#000" stroke-width="9" stroke-linejoin="round" stroke-linecap="round"/></g></g>
<clipPath id="t5"><rect x="40" y="245" width="150" height="195"/></clipPath><g clip-path="url(#t5)"><rect x="40" y="245" width="150" height="195" fill="#ff4026"/><g transform="translate(40,245) scale(0.25)"><path d="M400.0 -10.0 C391.7 -5.0 411.7 11.7 420.0 20.0 C428.3 28.3 440.0 33.3 450.0 40.0 C460.0 46.7 471.7 58.3 480.0 60.0 C488.3 61.7 498.3 56.7 500.0 50.0 C501.7 43.3 495.0 30.0 490.0 20.0 C485.0 10.0 485.0 -5.0 470.0 -10.0 C455.0 -15.0 408.3 -15.0 400.0 -10.0Z" fill="#ec6e0a" stroke="none" stroke-width="0" />
<path d="M405.0 85.0 L425.0 80.0 L455.0 120.0 L440.0 120.0Z" fill="#ec6e0a" stroke="none" stroke-width="0" />
<path d="M520.0 180.0 C523.3 172.5 530.0 160.8 540.0 155.0 C550.0 149.2 568.3 145.8 580.0 145.0 C591.7 144.2 605.0 134.2 610.0 150.0 C615.0 165.8 616.7 225.0 610.0 240.0 C603.3 255.0 582.5 242.5 570.0 240.0 C557.5 237.5 543.3 231.7 535.0 225.0 C526.7 218.3 522.5 207.5 520.0 200.0 C517.5 192.5 516.7 187.5 520.0 180.0Z" fill="#ec6e0a" stroke="none" stroke-width="0" />
<path d="M455.0 700.0 C454.3 688.7 461.0 673.0 465.0 665.0 C469.0 657.0 476.3 644.7 485.0 640.0 C493.7 635.3 520.0 628.7 530.0 630.0 C540.0 631.3 554.0 642.0 560.0 650.0 C566.0 658.0 571.0 678.0 575.0 690.0 C579.0 702.0 586.0 728.0 590.0 740.0 C594.0 752.0 603.0 772.0 605.0 780.0 C607.0 788.0 613.7 797.3 605.0 800.0 C596.3 802.7 554.0 802.7 540.0 800.0 C526.0 797.3 509.3 786.7 500.0 780.0 C490.7 773.3 476.0 760.7 470.0 750.0 C464.0 739.3 455.7 711.3 455.0 700.0Z" fill="#ec6e0a" stroke="none" stroke-width="0" />
<path d="M530.0 -10.0 C518.3 -3.3 533.3 18.3 540.0 30.0 C546.7 41.7 558.3 51.7 570.0 60.0 C581.7 68.3 603.3 91.7 610.0 80.0 C616.7 68.3 623.3 5.0 610.0 -10.0 C596.7 -25.0 541.7 -16.7 530.0 -10.0Z" fill="#b53667" stroke="none" stroke-width="0" />
<path d="M190.0 510.0 C194.7 503.3 205.3 505.7 220.0 505.0 C234.7 504.3 285.3 500.3 300.0 505.0 C314.7 509.7 320.7 530.0 330.0 540.0 C339.3 550.0 360.7 572.0 370.0 580.0 C379.3 588.0 392.0 592.0 400.0 600.0 C408.0 608.0 424.7 626.7 430.0 640.0 C435.3 653.3 440.0 679.3 440.0 700.0 C440.0 720.7 462.0 782.3 430.0 795.0 C398.0 807.7 230.7 810.3 200.0 795.0 C169.3 779.7 194.7 697.3 200.0 680.0 C205.3 662.7 234.0 670.3 240.0 665.0 C246.0 659.7 248.3 647.3 245.0 640.0 C241.7 632.7 219.0 618.7 215.0 610.0 C211.0 601.3 219.0 582.3 215.0 575.0 C211.0 567.7 188.3 563.7 185.0 555.0 C181.7 546.3 185.3 516.7 190.0 510.0Z" fill="#b53667" stroke="none" stroke-width="0" />
<path d="M545.0 560.0 C555.3 555.0 599.2 548.3 610.0 555.0 C620.8 561.7 618.3 591.7 610.0 600.0 C601.7 608.3 570.3 607.5 560.0 605.0 C549.7 602.5 550.5 592.5 548.0 585.0 C545.5 577.5 534.7 565.0 545.0 560.0Z" fill="#b53667" stroke="none" stroke-width="0" />
<path d="M495.0 390.0 L530.0 385.0 L555.0 355.0 L575.0 385.0 L550.0 410.0 L530.0 395.0 L505.0 420.0Z" fill="#b53667" stroke="none" stroke-width="0" />
<path d="M215.0 600.0 C214.3 593.3 232.7 590.0 240.0 590.0 C247.3 590.0 263.3 594.7 270.0 600.0 C276.7 605.3 282.0 624.7 290.0 630.0 C298.0 635.3 318.7 638.0 330.0 640.0 C341.3 642.0 367.7 641.0 375.0 645.0 C382.3 649.0 385.7 663.3 385.0 670.0 C384.3 676.7 377.3 690.3 370.0 695.0 C362.7 699.7 342.0 703.0 330.0 705.0 C318.0 707.0 292.0 710.0 280.0 710.0 C268.0 710.0 250.0 707.7 240.0 705.0 C230.0 702.3 205.7 694.7 205.0 690.0 C204.3 685.3 229.7 676.7 235.0 670.0 C240.3 663.3 247.7 649.3 245.0 640.0 C242.3 630.7 215.7 606.7 215.0 600.0Z" fill="#762d9c" stroke="none" stroke-width="0" />
<path d="M205.0 690.0 L240.0 705.0 L232.0 722.0 L205.0 716.0Z" fill="#762d9c" stroke="none" stroke-width="0" />
<path d="M550.0 560.0 C551.3 550.7 562.0 535.3 570.0 530.0 C578.0 524.7 600.7 524.0 610.0 520.0 C619.3 516.0 637.3 494.7 640.0 500.0 C642.7 505.3 635.3 547.3 630.0 560.0 C624.7 572.7 609.3 589.7 600.0 595.0 C590.7 600.3 566.7 604.7 560.0 600.0 C553.3 595.3 548.7 569.3 550.0 560.0Z" fill="#b53667" stroke="none" stroke-width="0" />
<path d="M562.0 480.0 C562.0 468.0 566.9 446.3 570.0 435.0 C573.1 423.7 579.0 405.7 585.0 395.0 C591.0 384.3 606.3 363.7 615.0 355.0 C623.7 346.3 638.7 333.7 650.0 330.0 C661.3 326.3 690.7 324.3 700.0 327.0 C709.3 329.7 716.7 337.6 720.0 350.0 C723.3 362.4 727.0 404.7 725.0 420.0 C723.0 435.3 712.3 455.7 705.0 465.0 C697.7 474.3 680.0 484.7 670.0 490.0 C660.0 495.3 639.3 499.7 630.0 505.0 C620.7 510.3 608.0 527.3 600.0 530.0 C592.0 532.7 575.1 531.7 570.0 525.0 C564.9 518.3 562.0 492.0 562.0 480.0Z" fill="#4626b4" stroke="none" stroke-width="0" />
<path d="M568.0 470.0 C568.4 461.3 574.4 435.9 578.0 425.0 C581.6 414.1 589.1 397.3 595.0 388.0 C600.9 378.7 614.4 361.8 622.0 355.0 C629.6 348.2 642.0 339.7 652.0 337.0 C662.0 334.3 688.6 332.2 697.0 335.0 C705.4 337.8 712.2 346.7 715.0 358.0 C717.8 369.3 720.0 406.4 718.0 420.0 C716.0 433.6 707.1 451.6 700.0 460.0 C692.9 468.4 675.0 478.1 665.0 483.0 C655.0 487.9 634.3 494.7 625.0 497.0 C615.7 499.3 601.7 500.9 595.0 500.0 C588.3 499.1 578.6 494.0 575.0 490.0 C571.4 486.0 567.6 478.7 568.0 470.0Z" fill="#2a2685" stroke="none" stroke-width="0" />
<path d="M575.0 445.0 C575.0 434.3 583.3 411.3 590.0 400.0 C596.7 388.7 617.0 367.3 625.0 360.0 C633.0 352.7 640.7 347.0 650.0 345.0 C659.3 343.0 687.0 341.7 695.0 345.0 C703.0 348.3 707.7 360.0 710.0 370.0 C712.3 380.0 714.0 408.0 712.0 420.0 C710.0 432.0 701.9 452.0 695.0 460.0 C688.1 468.0 670.0 476.0 660.0 480.0 C650.0 484.0 629.3 490.0 620.0 490.0 C610.7 490.0 596.0 486.0 590.0 480.0 C584.0 474.0 575.0 455.7 575.0 445.0Z" fill="#0e0e2e" stroke="none" stroke-width="0" />
<path d="M595.0 430.0 C595.0 422.0 604.0 402.3 610.0 395.0 C616.0 387.7 630.0 377.7 640.0 375.0 C650.0 372.3 676.3 373.0 685.0 375.0 C693.7 377.0 701.7 384.0 705.0 390.0 C708.3 396.0 712.0 411.3 710.0 420.0 C708.0 428.7 698.0 449.0 690.0 455.0 C682.0 461.0 660.7 465.0 650.0 465.0 C639.3 465.0 617.3 459.7 610.0 455.0 C602.7 450.3 595.0 438.0 595.0 430.0Z" fill="#000000" stroke="none" stroke-width="0" />
<path d="M-10.0 -10.0 L315.0 -10.0 L320.0 35.0 L335.0 60.0 L365.0 75.0 L365.0 95.0 L335.0 125.0 L320.0 165.0 L290.0 185.0 L225.0 185.0 L205.0 195.0 L200.0 220.0 L170.0 225.0 L170.0 265.0 L200.0 290.0 L215.0 320.0 L220.0 370.0 L190.0 405.0 L175.0 440.0 L175.0 490.0 L185.0 520.0 L190.0 555.0 L215.0 575.0 L215.0 610.0 L245.0 640.0 L240.0 665.0 L210.0 680.0 L210.0 795.0 L-10.0 795.0Z" fill="#d3d3d3" stroke="none" stroke-width="0" />
<path d="M25.0 -10.0 L115.0 -10.0 L82.0 16.0 L42.0 44.0 L27.0 60.0 L25.0 62.0Z" fill="#add8e6" stroke="none" stroke-width="0" />
<path d="M330 -10 L345 15 L395 20 L405 45 L400 75 L375 90 L355 115 L340 130 L350 150 L355 180 L300 185 L280 195 L240 183 L215 200 L205 215 L215 250 L230 270 L245 310 L240 345 L225 380 L240 400 L215 415 L190 435 L185 455 L205 470 L215 500 L215 520 L235 545 L250 570 L245 590 L265 605 L275 625 L330 635 L375 610 L385 590 L430 555 L490 580 L520 570 L545 545 L615 552" fill="none" stroke="#000" stroke-width="8" stroke-linejoin="round" stroke-linecap="round"/>
<path d="M405 75 L470 95 L540 85 L580 100 L615 112" fill="none" stroke="#000" stroke-width="8" stroke-linejoin="round" stroke-linecap="round"/>
<path d="M25 310 L40 320 L50 350 L70 370 L120 375 L130 390 L180 405 L185 430 L165 440 L160 475 L145 495 L155 520 L215 520" fill="none" stroke="#000" stroke-width="5.5" stroke-linejoin="round" stroke-linecap="round"/>
<path d="M265.0 605.0 C266.7 610.8 276.7 630.0 275.0 640.0 C273.3 650.0 261.7 655.0 255.0 665.0 C248.3 675.0 239.2 687.5 235.0 700.0 C230.8 712.5 228.3 725.0 230.0 740.0 C231.7 755.0 242.5 781.7 245.0 790.0" fill="none" stroke="#000" stroke-width="8" stroke-linejoin="round" stroke-linecap="round"/>
<path d="M235.0 690.0 C227.5 693.7 200.0 702.0 190.0 712.0 C180.0 722.0 180.3 737.0 175.0 750.0 C169.7 763.0 160.8 783.3 158.0 790.0" fill="none" stroke="#000" stroke-width="5.5" stroke-linejoin="round" stroke-linecap="round"/>
<path d="M82 16 L42 44 L27 60" fill="none" stroke="#000" stroke-width="7" stroke-linejoin="round" stroke-linecap="round"/>
<path d="M25 62 L60 58" fill="none" stroke="#000" stroke-width="7" stroke-linejoin="round" stroke-linecap="round"/>
<path d="M30 100 L45 98" fill="none" stroke="#000" stroke-width="8" stroke-linejoin="round" stroke-linecap="round"/></g></g>
<clipPath id="t6"><rect x="190" y="245" width="150" height="195"/></clipPath><g clip-path="url(#t6)"><rect x="190" y="245" width="150" height="195" fill="#ff4026"/><g transform="translate(190,245) scale(0.25)"><path d="M-10.0 105.0 C0.0 79.2 31.7 99.2 50.0 95.0 C68.3 90.8 83.3 82.2 100.0 80.0 C116.7 77.8 135.8 77.8 150.0 82.0 C164.2 86.2 179.5 93.7 185.0 105.0 C190.5 116.3 186.3 135.0 183.0 150.0 C179.7 165.0 173.8 186.7 165.0 195.0 C156.2 203.3 142.5 198.3 130.0 200.0 C117.5 201.7 102.5 199.2 90.0 205.0 C77.5 210.8 65.8 227.5 55.0 235.0 C44.2 242.5 35.8 247.5 25.0 250.0 C14.2 252.5 -4.2 274.2 -10.0 250.0 C-15.8 225.8 -20.0 130.8 -10.0 105.0Z" fill="#ec6e0a" stroke="none" stroke-width="0" />
<path d="M355.0 210.0 C357.8 202.5 367.5 196.7 375.0 195.0 C382.5 193.3 390.8 195.0 400.0 200.0 C409.2 205.0 420.0 215.8 430.0 225.0 C440.0 234.2 452.5 244.2 460.0 255.0 C467.5 265.8 473.3 279.2 475.0 290.0 C476.7 300.8 474.2 313.3 470.0 320.0 C465.8 326.7 456.7 331.7 450.0 330.0 C443.3 328.3 438.3 316.7 430.0 310.0 C421.7 303.3 409.2 297.5 400.0 290.0 C390.8 282.5 382.0 273.3 375.0 265.0 C368.0 256.7 361.3 249.2 358.0 240.0 C354.7 230.8 352.2 217.5 355.0 210.0Z" fill="#ec6e0a" stroke="none" stroke-width="0" />
<path d="M165.0 425.0 C168.3 417.5 187.5 415.0 200.0 415.0 C212.5 415.0 226.7 420.0 240.0 425.0 C253.3 430.0 266.7 440.0 280.0 445.0 C293.3 450.0 309.2 449.2 320.0 455.0 C330.8 460.8 340.0 469.2 345.0 480.0 C350.0 490.8 350.8 506.7 350.0 520.0 C349.2 533.3 346.7 550.8 340.0 560.0 C333.3 569.2 321.7 571.7 310.0 575.0 C298.3 578.3 280.8 582.5 270.0 580.0 C259.2 577.5 252.5 569.2 245.0 560.0 C237.5 550.8 232.5 536.7 225.0 525.0 C217.5 513.3 207.5 500.8 200.0 490.0 C192.5 479.2 185.8 470.8 180.0 460.0 C174.2 449.2 161.7 432.5 165.0 425.0Z" fill="#ec6e0a" stroke="none" stroke-width="0" />
<path d="M540.0 -10.0 C528.3 -1.7 545.0 21.7 545.0 40.0 C545.0 58.3 540.0 81.7 540.0 100.0 C540.0 118.3 540.0 135.0 545.0 150.0 C550.0 165.0 558.3 181.7 570.0 190.0 C581.7 198.3 607.5 233.3 615.0 200.0 C622.5 166.7 627.5 25.0 615.0 -10.0 C602.5 -45.0 551.7 -18.3 540.0 -10.0Z" fill="#ec6e0a" stroke="none" stroke-width="0" />
<path d="M392.0 800.0 C362.7 794.7 393.7 770.7 395.0 760.0 C396.3 749.3 397.3 729.1 402.0 720.0 C406.7 710.9 419.6 697.1 430.0 692.0 C440.4 686.9 466.7 683.6 480.0 682.0 C493.3 680.4 516.7 682.7 530.0 680.0 C543.3 677.3 568.7 663.1 580.0 662.0 C591.3 660.9 610.3 653.6 615.0 672.0 C619.7 690.4 644.7 782.9 615.0 800.0 C585.3 817.1 421.3 805.3 392.0 800.0Z" fill="#ec6e0a" stroke="none" stroke-width="0" />
<path d="M445.0 795.0 C432.2 790.5 442.2 773.5 448.0 768.0 C453.8 762.5 468.0 762.0 480.0 762.0 C492.0 762.0 512.5 762.5 520.0 768.0 C527.5 773.5 537.5 790.5 525.0 795.0 C512.5 799.5 457.8 799.5 445.0 795.0Z" fill="#e69c0c" stroke="none" stroke-width="0" />
<path d="M583.0 795.0 L590.0 765.0 L620.0 738.0 L620.0 795.0Z" fill="#e69c0c" stroke="none" stroke-width="0" />
<path d="M-10.0 -10.0 C-91.7 5.8 -18.3 70.0 -10.0 85.0 C-1.7 100.0 25.0 85.0 40.0 80.0 C55.0 75.0 66.7 61.7 80.0 55.0 C93.3 48.3 106.7 42.5 120.0 40.0 C133.3 37.5 146.7 34.2 160.0 40.0 C173.3 45.8 190.0 60.0 200.0 75.0 C210.0 90.0 210.0 114.2 220.0 130.0 C230.0 145.8 245.0 161.7 260.0 170.0 C275.0 178.3 286.7 181.7 310.0 180.0 C333.3 178.3 373.3 165.8 400.0 160.0 C426.7 154.2 451.7 151.7 470.0 145.0 C488.3 138.3 501.7 130.8 510.0 120.0 C518.3 109.2 520.0 93.3 520.0 80.0 C520.0 66.7 515.0 51.7 510.0 40.0 C505.0 28.3 495.0 18.3 490.0 10.0 C485.0 1.7 563.3 -6.7 480.0 -10.0 C396.7 -13.3 71.7 -25.8 -10.0 -10.0Z" fill="#b53667" stroke="none" stroke-width="0" />
<path d="M30.0 -10.0 C39.3 -5.3 84.0 1.0 100.0 5.0 C116.0 9.0 138.0 15.3 150.0 20.0 C162.0 24.7 180.7 32.0 190.0 40.0 C199.3 48.0 213.3 68.0 220.0 80.0 C226.7 92.0 234.0 119.6 240.0 130.0 C246.0 140.4 257.7 155.1 265.0 158.0 C272.3 160.9 289.0 159.7 295.0 152.0 C301.0 144.3 307.3 112.3 310.0 100.0 C312.7 87.7 312.3 69.3 315.0 60.0 C317.7 50.7 326.0 39.3 330.0 30.0 C334.0 20.7 343.0 -2.0 345.0 -10.0 C347.0 -18.0 387.0 -27.3 345.0 -30.0 C303.0 -32.7 72.0 -32.7 30.0 -30.0 C-12.0 -27.3 20.7 -14.7 30.0 -10.0Z" fill="#762d9c" stroke="none" stroke-width="0" />
<path d="M615.0 270.0 C607.5 217.5 584.2 271.7 570.0 275.0 C555.8 278.3 541.7 282.5 530.0 290.0 C518.3 297.5 506.7 308.3 500.0 320.0 C493.3 331.7 493.3 346.7 490.0 360.0 C486.7 373.3 488.3 388.3 480.0 400.0 C471.7 411.7 451.7 418.3 440.0 430.0 C428.3 441.7 416.7 455.0 410.0 470.0 C403.3 485.0 398.3 504.2 400.0 520.0 C401.7 535.8 410.0 553.3 420.0 565.0 C430.0 576.7 443.3 584.2 460.0 590.0 C476.7 595.8 501.7 598.3 520.0 600.0 C538.3 601.7 554.2 601.7 570.0 600.0 C585.8 598.3 607.5 645.0 615.0 590.0 C622.5 535.0 622.5 322.5 615.0 270.0Z" fill="#b53667" stroke="none" stroke-width="0" />
<path d="M615.0 400.0 C607.5 375.8 584.2 395.0 570.0 395.0 C555.8 395.0 543.3 395.8 530.0 400.0 C516.7 404.2 503.3 411.7 490.0 420.0 C476.7 428.3 460.8 438.3 450.0 450.0 C439.2 461.7 429.2 475.0 425.0 490.0 C420.8 505.0 420.8 525.8 425.0 540.0 C429.2 554.2 439.2 566.7 450.0 575.0 C460.8 583.3 475.0 587.5 490.0 590.0 C505.0 592.5 525.8 592.5 540.0 590.0 C554.2 587.5 565.0 581.7 575.0 575.0 C585.0 568.3 593.3 555.8 600.0 550.0 C606.7 544.2 612.5 565.0 615.0 540.0 C617.5 515.0 622.5 424.2 615.0 400.0Z" fill="#762d9c" stroke="none" stroke-width="0" />
<path d="M470.0 540.0 C475.8 533.3 491.7 532.5 500.0 535.0 C508.3 537.5 517.5 546.7 520.0 555.0 C522.5 563.3 520.0 578.8 515.0 585.0 C510.0 591.2 498.3 593.7 490.0 592.0 C481.7 590.3 468.3 583.7 465.0 575.0 C461.7 566.3 464.2 546.7 470.0 540.0Z" fill="#4626b4" stroke="none" stroke-width="0" />
<path d="M10.0 680.0 C12.0 665.3 20.7 654.7 30.0 650.0 C39.3 645.3 66.7 643.7 80.0 645.0 C93.3 646.3 116.7 654.0 130.0 660.0 C143.3 666.0 170.7 680.7 180.0 690.0 C189.3 699.3 198.0 719.3 200.0 730.0 C202.0 740.7 199.0 762.0 195.0 770.0 C191.0 778.0 180.0 788.0 170.0 790.0 C160.0 792.0 132.0 785.0 120.0 785.0 C108.0 785.0 89.3 786.7 80.0 790.0 C70.7 793.3 56.7 808.0 50.0 810.0 C43.3 812.0 34.7 811.7 30.0 805.0 C25.3 798.3 17.7 776.7 15.0 760.0 C12.3 743.3 8.0 694.7 10.0 680.0Z" fill="#b53667" stroke="none" stroke-width="0" />
<path d="M-50.0 560.0 C-48.7 550.7 -38.0 535.3 -30.0 530.0 C-22.0 524.7 0.7 524.0 10.0 520.0 C19.3 516.0 37.3 494.7 40.0 500.0 C42.7 505.3 35.3 547.3 30.0 560.0 C24.7 572.7 9.3 589.7 0.0 595.0 C-9.3 600.3 -33.3 604.7 -40.0 600.0 C-46.7 595.3 -51.3 569.3 -50.0 560.0Z" fill="#b53667" stroke="none" stroke-width="0" />
<path d="M-38.0 480.0 C-38.0 468.0 -33.1 446.3 -30.0 435.0 C-26.9 423.7 -21.0 405.7 -15.0 395.0 C-9.0 384.3 6.3 363.7 15.0 355.0 C23.7 346.3 38.7 333.7 50.0 330.0 C61.3 326.3 90.7 324.3 100.0 327.0 C109.3 329.7 116.7 337.6 120.0 350.0 C123.3 362.4 127.0 404.7 125.0 420.0 C123.0 435.3 112.3 455.7 105.0 465.0 C97.7 474.3 80.0 484.7 70.0 490.0 C60.0 495.3 39.3 499.7 30.0 505.0 C20.7 510.3 8.0 527.3 0.0 530.0 C-8.0 532.7 -24.9 531.7 -30.0 525.0 C-35.1 518.3 -38.0 492.0 -38.0 480.0Z" fill="#4626b4" stroke="none" stroke-width="0" />
<path d="M-32.0 470.0 C-31.6 461.3 -25.6 435.9 -22.0 425.0 C-18.4 414.1 -10.9 397.3 -5.0 388.0 C0.9 378.7 14.4 361.8 22.0 355.0 C29.6 348.2 42.0 339.7 52.0 337.0 C62.0 334.3 88.6 332.2 97.0 335.0 C105.4 337.8 112.2 346.7 115.0 358.0 C117.8 369.3 120.0 406.4 118.0 420.0 C116.0 433.6 107.1 451.6 100.0 460.0 C92.9 468.4 75.0 478.1 65.0 483.0 C55.0 487.9 34.3 494.7 25.0 497.0 C15.7 499.3 1.7 500.9 -5.0 500.0 C-11.7 499.1 -21.4 494.0 -25.0 490.0 C-28.6 486.0 -32.4 478.7 -32.0 470.0Z" fill="#2a2685" stroke="none" stroke-width="0" />
<path d="M-25.0 445.0 C-25.0 434.3 -16.7 411.3 -10.0 400.0 C-3.3 388.7 17.0 367.3 25.0 360.0 C33.0 352.7 40.7 347.0 50.0 345.0 C59.3 343.0 87.0 341.7 95.0 345.0 C103.0 348.3 107.7 360.0 110.0 370.0 C112.3 380.0 114.0 408.0 112.0 420.0 C110.0 432.0 101.9 452.0 95.0 460.0 C88.1 468.0 70.0 476.0 60.0 480.0 C50.0 484.0 29.3 490.0 20.0 490.0 C10.7 490.0 -4.0 486.0 -10.0 480.0 C-16.0 474.0 -25.0 455.7 -25.0 445.0Z" fill="#0e0e2e" stroke="none" stroke-width="0" />
<path d="M-5.0 430.0 C-5.0 422.0 4.0 402.3 10.0 395.0 C16.0 387.7 30.0 377.7 40.0 375.0 C50.0 372.3 76.3 373.0 85.0 375.0 C93.7 377.0 101.7 384.0 105.0 390.0 C108.3 396.0 112.0 411.3 110.0 420.0 C108.0 428.7 98.0 449.0 90.0 455.0 C82.0 461.0 60.7 465.0 50.0 465.0 C39.3 465.0 17.3 459.7 10.0 455.0 C2.7 450.3 -5.0 438.0 -5.0 430.0Z" fill="#000000" stroke="none" stroke-width="0" />
<path d="M310.0 610.0 C311.7 603.0 319.2 592.2 325.0 588.0 C330.8 583.8 339.2 583.0 345.0 585.0 C350.8 587.0 358.3 593.3 360.0 600.0 C361.7 606.7 359.2 619.2 355.0 625.0 C350.8 630.8 341.7 634.2 335.0 635.0 C328.3 635.8 319.2 634.2 315.0 630.0 C310.8 625.8 308.3 617.0 310.0 610.0Z" fill="#762d9c" stroke="none" stroke-width="0" />
<path d="M320.0 610.0 C320.3 605.0 325.8 597.5 330.0 595.0 C334.2 592.5 341.3 592.8 345.0 595.0 C348.7 597.2 352.0 603.0 352.0 608.0 C352.0 613.0 349.0 622.2 345.0 625.0 C341.0 627.8 332.2 627.5 328.0 625.0 C323.8 622.5 319.7 615.0 320.0 610.0Z" fill="#4626b4" stroke="none" stroke-width="0" />
<path d="M-10 103 L40 112 L100 100 L190 135 L185 160 L165 185 L165 210 L240 215 L255 243 L235 252 L300 320 L325 305" fill="none" stroke="#000" stroke-width="8" stroke-linejoin="round" stroke-linecap="round"/>
<path d="M235 252 L180 250 L155 235 L145 245 L155 290 L150 340 L100 400 L70 455 L45 490 L15 545 L-10 550" fill="none" stroke="#000" stroke-width="8" stroke-linejoin="round" stroke-linecap="round"/>
<path d="M300 320 L320 330 L295 360 L330 375 L350 378 L340 340 L345 320" fill="none" stroke="#000" stroke-width="8" stroke-linejoin="round" stroke-linecap="round"/>
<path d="M525 -10 L540 30 L540 100 L520 150 L480 155 L470 185 L440 230 L410 260 L380 290 L345 320 L350 380 L360 430 L340 470 L330 490 L350 510 L345 530 L355 555" fill="none" stroke="#000" stroke-width="8" stroke-linejoin="round" stroke-linecap="round"/>
<path d="M355 555 L395 560 L400 600 L450 630 L520 620 L540 600 L615 597" fill="none" stroke="#000" stroke-width="8" stroke-linejoin="round" stroke-linecap="round"/>
<path d="M355 555 L330 600 L290 655 L250 700 L225 735 L230 770 L236 800" fill="none" stroke="#000" stroke-width="8" stroke-linejoin="round" stroke-linecap="round"/>
<ellipse cx="225" cy="12" rx="11" ry="5" transform="rotate(-20 225 12)" fill="none" stroke="#000" stroke-width="7"/>
<ellipse cx="40" cy="2" rx="5" ry="5" transform="rotate(0 40 2)" fill="#000" stroke="#000" stroke-width="3"/></g></g>
<clipPath id="t7"><rect x="340" y="245" width="150" height="195"/></clipPath><g clip-path="url(#t7)"><rect x="340" y="245" width="150" height="195" fill="#ff4026"/><g transform="translate(340,245) scale(0.25)"><path d="M-10.0 -10.0 C18.3 -45.8 125.8 -20.0 160.0 -10.0 C194.2 0.0 185.8 30.0 195.0 50.0 C204.2 70.0 203.3 93.3 215.0 110.0 C226.7 126.7 251.7 136.7 265.0 150.0 C278.3 163.3 290.8 177.5 295.0 190.0 C299.2 202.5 295.0 214.2 290.0 225.0 C285.0 235.8 273.3 250.8 265.0 255.0 C256.7 259.2 246.7 255.0 240.0 250.0 C233.3 245.0 235.0 230.8 225.0 225.0 C215.0 219.2 197.5 215.0 180.0 215.0 C162.5 215.0 140.0 221.7 120.0 225.0 C100.0 228.3 76.7 235.8 60.0 235.0 C43.3 234.2 31.7 225.0 20.0 220.0 C8.3 215.0 -5.0 243.3 -10.0 205.0 C-15.0 166.7 -38.3 25.8 -10.0 -10.0Z" fill="#ec6e0a" stroke="none" stroke-width="0" />
<path d="M165.0 395.0 C165.0 381.7 169.2 361.7 175.0 350.0 C180.8 338.3 190.0 331.7 200.0 325.0 C210.0 318.3 225.0 316.7 235.0 310.0 C245.0 303.3 253.3 286.7 260.0 285.0 C266.7 283.3 270.0 290.8 275.0 300.0 C280.0 309.2 288.3 325.0 290.0 340.0 C291.7 355.0 290.0 376.7 285.0 390.0 C280.0 403.3 269.2 411.7 260.0 420.0 C250.8 428.3 240.0 435.0 230.0 440.0 C220.0 445.0 209.2 451.7 200.0 450.0 C190.8 448.3 180.8 439.2 175.0 430.0 C169.2 420.8 165.0 408.3 165.0 395.0Z" fill="#ec6e0a" stroke="none" stroke-width="0" />
<path d="M216.0 418.0 L224.0 410.0 L228.0 420.0Z" fill="#e69c0c" stroke="none" stroke-width="0" />
<path d="M485.0 235.0 C485.8 224.2 490.8 212.5 500.0 205.0 C509.2 197.5 525.0 193.3 540.0 190.0 C555.0 186.7 577.5 184.2 590.0 185.0 C602.5 185.8 610.8 170.8 615.0 195.0 C619.2 219.2 624.2 308.3 615.0 330.0 C605.8 351.7 574.2 327.5 560.0 325.0 C545.8 322.5 536.7 319.2 530.0 315.0 C523.3 310.8 525.8 307.5 520.0 300.0 C514.2 292.5 500.8 280.8 495.0 270.0 C489.2 259.2 484.2 245.8 485.0 235.0Z" fill="#ec6e0a" stroke="none" stroke-width="0" />
<path d="M-10.0 675.0 C-4.7 659.3 15.3 681.1 30.0 682.0 C44.7 682.9 85.3 686.0 100.0 682.0 C114.7 678.0 131.3 659.6 140.0 652.0 C148.7 644.4 159.0 623.9 165.0 625.0 C171.0 626.1 180.3 650.0 185.0 660.0 C189.7 670.0 196.0 688.0 200.0 700.0 C204.0 712.0 213.0 736.7 215.0 750.0 C217.0 763.3 245.0 793.3 215.0 800.0 C185.0 806.7 20.0 816.7 -10.0 800.0 C-40.0 783.3 -15.3 690.7 -10.0 675.0Z" fill="#ec6e0a" stroke="none" stroke-width="0" />
<path d="M100.0 600.0 C105.0 596.0 134.2 589.7 150.0 588.0 C165.8 586.3 190.0 587.2 195.0 590.0 C200.0 592.8 192.5 601.3 180.0 605.0 C167.5 608.7 133.3 612.8 120.0 612.0 C106.7 611.2 95.0 604.0 100.0 600.0Z" fill="#ec6e0a" stroke="none" stroke-width="0" />
<path d="M525.0 525.0 C513.3 519.2 532.5 497.5 545.0 490.0 C557.5 482.5 588.3 478.3 600.0 480.0 C611.7 481.7 612.5 492.5 615.0 500.0 C617.5 507.5 630.0 520.8 615.0 525.0 C600.0 529.2 536.7 530.8 525.0 525.0Z" fill="#ec6e0a" stroke="none" stroke-width="0" />
<path d="M-15.0 795.0 C-40.3 791.4 -19.7 775.3 -15.0 768.0 C-10.3 760.7 8.7 742.4 20.0 740.0 C31.3 737.6 56.7 746.0 70.0 750.0 C83.3 754.0 106.7 765.7 120.0 770.0 C133.3 774.3 162.7 778.7 170.0 782.0 C177.3 785.3 199.7 793.3 175.0 795.0 C150.3 796.7 10.3 798.6 -15.0 795.0Z" fill="#e69c0c" stroke="none" stroke-width="0" />
<path d="M215.0 -10.0 C175.8 -3.3 207.5 16.7 205.0 30.0 C202.5 43.3 199.2 56.7 200.0 70.0 C200.8 83.3 203.3 98.3 210.0 110.0 C216.7 121.7 226.7 131.7 240.0 140.0 C253.3 148.3 273.3 155.8 290.0 160.0 C306.7 164.2 321.7 165.0 340.0 165.0 C358.3 165.0 383.3 162.5 400.0 160.0 C416.7 157.5 426.7 153.3 440.0 150.0 C453.3 146.7 466.7 143.3 480.0 140.0 C493.3 136.7 511.7 136.7 520.0 130.0 C528.3 123.3 530.0 111.7 530.0 100.0 C530.0 88.3 528.3 70.0 520.0 60.0 C511.7 50.0 492.5 45.0 480.0 40.0 C467.5 35.0 451.7 38.3 445.0 30.0 C438.3 21.7 478.3 -3.3 440.0 -10.0 C401.7 -16.7 254.2 -16.7 215.0 -10.0Z" fill="#b53667" stroke="none" stroke-width="0" />
<path d="M250.0 45.0 C258.3 39.5 265.8 35.3 275.0 32.0 C284.2 28.7 294.2 25.7 305.0 25.0 C315.8 24.3 332.0 23.0 340.0 28.0 C348.0 33.0 348.8 44.7 353.0 55.0 C357.2 65.3 361.3 75.8 365.0 90.0 C368.7 104.2 374.2 128.3 375.0 140.0 C375.8 151.7 377.5 158.3 370.0 160.0 C362.5 161.7 343.3 153.3 330.0 150.0 C316.7 146.7 303.3 145.0 290.0 140.0 C276.7 135.0 261.3 128.3 250.0 120.0 C238.7 111.7 226.2 99.2 222.0 90.0 C217.8 80.8 220.3 72.5 225.0 65.0 C229.7 57.5 241.7 50.5 250.0 45.0Z" fill="#762d9c" stroke="none" stroke-width="0" />
<path d="M580.0 100.0 L600.0 88.0 L620.0 88.0 L620.0 140.0 L590.0 140.0 L580.0 120.0Z" fill="#b53667" stroke="none" stroke-width="0" />
<path d="M-10.0 250.0 C-4.7 204.7 18.0 246.3 30.0 245.0 C42.0 243.7 66.7 239.3 80.0 240.0 C93.3 240.7 118.0 244.7 130.0 250.0 C142.0 255.3 162.7 270.7 170.0 280.0 C177.3 289.3 185.0 309.3 185.0 320.0 C185.0 330.7 177.3 351.3 170.0 360.0 C162.7 368.7 136.7 378.3 130.0 385.0 C123.3 391.7 117.3 402.7 120.0 410.0 C122.7 417.3 140.7 433.3 150.0 440.0 C159.3 446.7 179.3 456.7 190.0 460.0 C200.7 463.3 219.3 467.7 230.0 465.0 C240.7 462.3 260.7 448.7 270.0 440.0 C279.3 431.3 293.3 410.7 300.0 400.0 C306.7 389.3 312.0 368.7 320.0 360.0 C328.0 351.3 346.7 339.7 360.0 335.0 C373.3 330.3 405.3 325.7 420.0 325.0 C434.7 324.3 456.7 328.0 470.0 330.0 C483.3 332.0 508.0 336.0 520.0 340.0 C532.0 344.0 550.7 358.7 560.0 360.0 C569.3 361.3 582.7 352.7 590.0 350.0 C597.3 347.3 611.7 333.3 615.0 340.0 C618.3 346.7 617.0 386.7 615.0 400.0 C613.0 413.3 607.3 430.7 600.0 440.0 C592.7 449.3 568.0 462.0 560.0 470.0 C552.0 478.0 548.0 493.3 540.0 500.0 C532.0 506.7 510.7 516.0 500.0 520.0 C489.3 524.0 470.7 526.0 460.0 530.0 C449.3 534.0 430.7 544.7 420.0 550.0 C409.3 555.3 390.7 563.3 380.0 570.0 C369.3 576.7 350.7 593.3 340.0 600.0 C329.3 606.7 310.7 616.7 300.0 620.0 C289.3 623.3 270.7 627.7 260.0 625.0 C249.3 622.3 230.7 606.0 220.0 600.0 C209.3 594.0 193.3 584.0 180.0 580.0 C166.7 576.0 136.0 572.0 120.0 570.0 C104.0 568.0 73.3 564.3 60.0 565.0 C46.7 565.7 29.3 572.3 20.0 575.0 C10.7 577.7 -6.0 628.3 -10.0 585.0 C-14.0 541.7 -15.3 295.3 -10.0 250.0Z" fill="#b53667" stroke="none" stroke-width="0" />
<path d="M-10.0 455.0 C-3.3 443.0 25.3 468.0 40.0 470.0 C54.7 472.0 85.3 469.3 100.0 470.0 C114.7 470.7 136.7 475.0 150.0 475.0 C163.3 475.0 186.7 471.3 200.0 470.0 C213.3 468.7 238.7 463.7 250.0 465.0 C261.3 466.3 279.0 472.7 285.0 480.0 C291.0 487.3 295.7 510.0 295.0 520.0 C294.3 530.0 287.3 547.7 280.0 555.0 C272.7 562.3 249.3 574.3 240.0 575.0 C230.7 575.7 219.3 564.7 210.0 560.0 C200.7 555.3 182.0 544.7 170.0 540.0 C158.0 535.3 134.7 526.3 120.0 525.0 C105.3 523.7 73.3 526.7 60.0 530.0 C46.7 533.3 29.3 546.0 20.0 550.0 C10.7 554.0 -6.0 572.7 -10.0 560.0 C-14.0 547.3 -16.7 467.0 -10.0 455.0Z" fill="#762d9c" stroke="none" stroke-width="0" />
<path d="M380.0 470.0 C380.7 459.3 384.7 430.7 390.0 420.0 C395.3 409.3 410.7 396.0 420.0 390.0 C429.3 384.0 449.3 375.7 460.0 375.0 C470.7 374.3 491.3 379.0 500.0 385.0 C508.7 391.0 522.3 408.7 525.0 420.0 C527.7 431.3 524.0 458.0 520.0 470.0 C516.0 482.0 501.7 500.7 495.0 510.0 C488.3 519.3 477.3 535.3 470.0 540.0 C462.7 544.7 448.0 547.7 440.0 545.0 C432.0 542.3 417.3 526.0 410.0 520.0 C402.7 514.0 389.0 506.7 385.0 500.0 C381.0 493.3 379.3 480.7 380.0 470.0Z" fill="#762d9c" stroke="none" stroke-width="0" />
<path d="M75.0 285.0 L95.0 260.0 L108.0 285.0 L90.0 302.0Z" fill="#762d9c" stroke="none" stroke-width="0" />
<path d="M615.0 515.0 L520.0 520.0 L515.0 545.0 L430.0 552.0 L415.0 580.0 L340.0 600.0 L330.0 625.0 L215.0 650.0 L195.0 690.0 L185.0 715.0 L215.0 745.0 L215.0 800.0 L615.0 800.0Z" fill="#d3d3d3" stroke="none" stroke-width="0" />
<path d="M265 -10 L285 30 L215 75 L225 130 L300 160 L320 190 L375 215 L390 285 L400 292 L500 270 L530 288 L590 293 L615 297" fill="none" stroke="#000" stroke-width="8" stroke-linejoin="round" stroke-linecap="round"/>
<path d="M400 284 L500 263 L535 280" fill="none" stroke="#000" stroke-width="5" stroke-linejoin="round" stroke-linecap="round"/>
<path d="M190 38 L210 42 L205 30" fill="none" stroke="#000" stroke-width="7" stroke-linejoin="round" stroke-linecap="round"/>
<path d="M605 -20 L590 40 L600 70 L615 84" fill="none" stroke="#000" stroke-width="8" stroke-linejoin="round" stroke-linecap="round"/>
<path d="M615 447 L560 440 L540 460 L555 480 L500 510 L450 525 L420 545 L380 560 L360 580 L330 600 L290 610 L250 625 L215 640 L190 665 L175 690 L150 660 L135 665" fill="none" stroke="#000" stroke-width="8" stroke-linejoin="round" stroke-linecap="round"/>
<path d="M540 462 L575 455 L615 430" fill="none" stroke="#000" stroke-width="6" stroke-linejoin="round" stroke-linecap="round"/>
<path d="M-10 597 L40 600 L70 630 L110 625 L140 660 L155 690 L175 692 L195 730 L215 750 L220 800" fill="none" stroke="#000" stroke-width="8" stroke-linejoin="round" stroke-linecap="round"/>
<path d="M488 73 L495 90" fill="none" stroke="#000" stroke-width="8" stroke-linejoin="round" stroke-linecap="round"/>
<path d="M520 125 L525 145" fill="none" stroke="#000" stroke-width="9" stroke-linejoin="round" stroke-linecap="round"/>
<path d="M318 22 L345 12" fill="none" stroke="#000" stroke-width="8" stroke-linejoin="round" stroke-linecap="round"/></g></g>
<clipPath id="t8"><rect x="490" y="245" width="66" height="195"/></clipPath><g clip-path="url(#t8)"><rect x="490" y="245" width="66" height="195" fill="#d3d3d3"/><g transform="translate(440,245) scale(0.25)"><path d="M190.0 -10.0 L212.0 -10.0 L200.0 40.0 L195.0 85.0 L232.0 90.0 L232.0 290.0 L265.0 310.0 L270.0 360.0 L290.0 380.0 L275.0 420.0 L270.0 470.0 L250.0 480.0 L250.0 520.0 L190.0 520.0Z" fill="#ff4026" stroke="none" stroke-width="0" />
<path d="M185.0 90.0 L232.0 90.0 L232.0 140.0 L200.0 140.0 L185.0 125.0Z" fill="#b53667" stroke="none" stroke-width="0" />
<path d="M180.0 185.0 C185.8 165.8 207.7 187.5 215.0 200.0 C222.3 212.5 224.0 243.3 224.0 260.0 C224.0 276.7 222.3 290.8 215.0 300.0 C207.7 309.2 185.8 334.2 180.0 315.0 C174.2 295.8 174.2 204.2 180.0 185.0Z" fill="#ec6e0a" stroke="none" stroke-width="0" />
<path d="M180.0 335.0 C184.7 319.9 207.0 316.7 215.0 312.0 C223.0 307.3 233.2 300.0 240.0 300.0 C246.8 300.0 261.9 304.0 266.0 312.0 C270.1 320.0 267.8 350.9 271.0 360.0 C274.2 369.1 289.2 372.0 290.0 380.0 C290.8 388.0 279.9 409.1 277.0 420.0 C274.1 430.9 273.6 457.3 268.0 462.0 C262.4 466.7 244.1 459.3 235.0 455.0 C225.9 450.7 207.3 434.0 200.0 430.0 C192.7 426.0 182.7 437.7 180.0 425.0 C177.3 412.3 175.3 350.1 180.0 335.0Z" fill="#b53667" stroke="none" stroke-width="0" />
<path d="M180.0 448.0 C183.5 441.3 208.0 451.8 215.0 455.0 C222.0 458.2 246.3 473.3 250.0 480.0 C253.7 486.7 259.0 517.8 252.0 522.0 C245.0 526.2 187.2 529.4 180.0 522.0 C172.8 514.6 176.5 454.7 180.0 448.0Z" fill="#ec6e0a" stroke="none" stroke-width="0" />
<rect x="432" y="170" width="26" height="28" fill="#add8e6"/>
<path d="M195 -10 L185 40 L195 75 L215 85 L210 150 L215 230 L225 265 L225 290 L262 310 L270 350 L268 400 L270 440 L255 475 L235 500 L210 492 L195 468 L150 440" fill="none" stroke="#000" stroke-width="8" stroke-linejoin="round" stroke-linecap="round"/>
<path d="M180 287 L224 287" fill="none" stroke="#000" stroke-width="8" stroke-linejoin="round" stroke-linecap="round"/>
<path d="M270 445 L300 450 L320 465 L325 490 L345 510 L400 520 L430 545 L465 545" fill="none" stroke="#000" stroke-width="6" stroke-linejoin="round" stroke-linecap="round"/>
<path d="M255 462 L272 462 L272 490 L250 492" fill="none" stroke="#000" stroke-width="4" stroke-linejoin="round" stroke-linecap="round"/>
<path d="M448 180 L456 188" fill="none" stroke="#000" stroke-width="7" stroke-linejoin="round" stroke-linecap="round"/></g></g>
<clipPath id="t9"><rect x="40" y="440" width="150" height="195"/></clipPath><g clip-path="url(#t9)"><rect x="40" y="440" width="150" height="195" fill="#d3d3d3"/><g transform="translate(40,440) scale(0.25)"><path d="M215.0 -10.0 L230.0 20.0 L265.0 30.0 L265.0 70.0 L250.0 85.0 L250.0 115.0 L270.0 140.0 L310.0 215.0 L380.0 215.0 L390.0 245.0 L550.0 245.0 L565.0 295.0 L615.0 280.0 L615.0 -10.0Z" fill="#b53667" stroke="none" stroke-width="0" />
<path d="M470.0 -10.0 C447.2 -6.3 473.0 3.7 478.0 12.0 C483.0 20.3 491.3 32.8 500.0 40.0 C508.7 47.2 515.0 53.3 530.0 55.0 C545.0 56.7 575.8 51.2 590.0 50.0 C604.2 48.8 610.8 58.0 615.0 48.0 C619.2 38.0 639.2 -0.3 615.0 -10.0 C590.8 -19.7 492.8 -13.7 470.0 -10.0Z" fill="#ff4026" stroke="none" stroke-width="0" />
<path d="M522.0 -10.0 C509.5 -5.0 532.0 10.8 540.0 20.0 C548.0 29.2 560.0 41.7 570.0 45.0 C580.0 48.3 592.5 44.2 600.0 40.0 C607.5 35.8 612.5 28.3 615.0 20.0 C617.5 11.7 630.5 -5.0 615.0 -10.0 C599.5 -15.0 534.5 -15.0 522.0 -10.0Z" fill="#ec6e0a" stroke="none" stroke-width="0" />
<path d="M262.0 130.0 L285.0 112.0 L345.0 112.0 L368.0 125.0 L365.0 170.0 L350.0 190.0 L370.0 215.0 L310.0 215.0Z" fill="#762d9c" stroke="none" stroke-width="0" />
<path d="M560.0 290.0 L545.0 330.0 L520.0 370.0 L515.0 420.0 L495.0 450.0 L480.0 490.0 L480.0 560.0 L455.0 615.0 L490.0 650.0 L490.0 680.0 L615.0 680.0 L615.0 275.0Z" fill="#ec6e0a" stroke="none" stroke-width="0" />
<path d="M558.0 288.0 C566.3 277.6 616.1 221.9 625.0 272.0 C633.9 322.1 631.0 611.7 625.0 664.0 C619.0 716.3 592.0 666.4 580.0 664.0 C568.0 661.6 543.8 654.0 535.0 646.0 C526.2 638.0 516.5 615.5 514.0 604.0 C511.5 592.5 513.9 571.2 516.0 560.0 C518.1 548.8 525.7 532.0 530.0 520.0 C534.3 508.0 544.5 484.7 548.0 470.0 C551.5 455.3 554.0 426.0 556.0 410.0 C558.0 394.0 562.7 366.3 563.0 350.0 C563.3 333.7 549.7 298.4 558.0 288.0Z" fill="#ff4026" stroke="none" stroke-width="0" />
<path d="M625.0 380.0 C621.7 346.7 607.1 384.5 600.0 400.0 C592.9 415.5 578.9 478.9 572.0 496.0 C565.1 513.1 553.3 519.5 548.0 528.0 C542.7 536.5 534.7 550.4 532.0 560.0 C529.3 569.6 526.4 590.4 528.0 600.0 C529.6 609.6 536.5 625.6 544.0 632.0 C551.5 638.4 573.2 645.6 584.0 648.0 C594.8 650.4 619.5 685.7 625.0 650.0 C630.5 614.3 628.3 413.3 625.0 380.0Z" fill="#b53667" stroke="none" stroke-width="0" />
<path d="M615.0 555.0 C610.8 545.8 595.8 555.0 590.0 560.0 C584.2 565.0 580.0 576.7 580.0 585.0 C580.0 593.3 584.2 605.0 590.0 610.0 C595.8 615.0 610.8 624.2 615.0 615.0 C619.2 605.8 619.2 564.2 615.0 555.0Z" fill="#762d9c" stroke="none" stroke-width="0" />
<path d="M470.0 130.0 C470.0 115.3 477.7 89.1 487.0 80.0 C496.3 70.9 526.9 63.6 540.0 62.0 C553.1 60.4 573.3 64.5 585.0 68.0 C596.7 71.5 619.9 80.0 628.0 88.0 C636.1 96.0 643.9 115.1 646.0 128.0 C648.1 140.9 648.1 172.1 644.0 185.0 C639.9 197.9 624.9 217.9 615.0 225.0 C605.1 232.1 582.0 238.0 570.0 238.0 C558.0 238.0 536.1 231.4 525.0 225.0 C513.9 218.6 494.3 202.7 487.0 190.0 C479.7 177.3 470.0 144.7 470.0 130.0Z" fill="#762d9c" stroke="none" stroke-width="0" />
<path d="M480.0 130.0 C480.0 117.1 487.0 95.7 495.0 88.0 C503.0 80.3 528.4 73.3 540.0 72.0 C551.6 70.7 571.3 74.9 582.0 78.0 C592.7 81.1 612.5 88.1 620.0 95.0 C627.5 101.9 635.9 118.7 638.0 130.0 C640.1 141.3 639.7 168.7 636.0 180.0 C632.3 191.3 618.8 208.7 610.0 215.0 C601.2 221.3 580.9 227.0 570.0 227.0 C559.1 227.0 538.0 220.6 528.0 215.0 C518.0 209.4 501.4 196.3 495.0 185.0 C488.6 173.7 480.0 142.9 480.0 130.0Z" fill="#4626b4" stroke="none" stroke-width="0" />
<path d="M490.0 130.0 C490.0 118.7 496.3 101.4 503.0 95.0 C509.7 88.6 530.0 83.1 540.0 82.0 C550.0 80.9 568.4 84.3 578.0 87.0 C587.6 89.7 605.1 96.0 612.0 102.0 C618.9 108.0 627.9 122.3 630.0 132.0 C632.1 141.7 631.3 165.3 628.0 175.0 C624.7 184.7 612.7 199.7 605.0 205.0 C597.3 210.3 579.7 215.0 570.0 215.0 C560.3 215.0 540.9 209.7 532.0 205.0 C523.1 200.3 508.6 190.0 503.0 180.0 C497.4 170.0 490.0 141.3 490.0 130.0Z" fill="#2a2685" stroke="none" stroke-width="0" />
<path d="M498.0 130.0 C498.0 120.3 504.4 107.3 510.0 102.0 C515.6 96.7 531.3 90.9 540.0 90.0 C548.7 89.1 566.3 92.3 575.0 95.0 C583.7 97.7 598.7 104.7 605.0 110.0 C611.3 115.3 620.0 127.0 622.0 135.0 C624.0 143.0 622.9 162.0 620.0 170.0 C617.1 178.0 606.7 190.3 600.0 195.0 C593.3 199.7 578.7 205.0 570.0 205.0 C561.3 205.0 543.0 199.0 535.0 195.0 C527.0 191.0 514.9 183.7 510.0 175.0 C505.1 166.3 498.0 139.7 498.0 130.0Z" fill="#0e0e2e" stroke="none" stroke-width="0" />
<path d="M512.0 130.0 C513.3 124.0 519.9 117.4 525.0 115.0 C530.1 112.6 543.3 110.7 550.0 112.0 C556.7 113.3 569.7 121.3 575.0 125.0 C580.3 128.7 586.0 136.7 590.0 140.0 C594.0 143.3 603.0 145.3 605.0 150.0 C607.0 154.7 607.7 170.3 605.0 175.0 C602.3 179.7 591.0 185.7 585.0 185.0 C579.0 184.3 566.7 172.0 560.0 170.0 C553.3 168.0 541.0 171.3 535.0 170.0 C529.0 168.7 518.1 165.3 515.0 160.0 C511.9 154.7 510.7 136.0 512.0 130.0Z" fill="#000000" stroke="none" stroke-width="0" />
<path d="M535.0 225.0 C539.7 221.9 568.7 228.7 580.0 232.0 C591.3 235.3 617.3 242.9 620.0 250.0 C622.7 257.1 607.3 281.0 600.0 285.0 C592.7 289.0 572.3 284.0 565.0 280.0 C557.7 276.0 549.0 262.3 545.0 255.0 C541.0 247.7 530.3 228.1 535.0 225.0Z" fill="#762d9c" stroke="none" stroke-width="0" />
<path d="M25.0 20.0 C30.8 23.3 49.2 32.5 60.0 40.0 C70.8 47.5 81.7 55.8 90.0 65.0 C98.3 74.2 98.3 90.8 110.0 95.0 C121.7 99.2 148.3 94.2 160.0 90.0 C171.7 85.8 175.8 77.5 180.0 70.0 C184.2 62.5 186.7 53.3 185.0 45.0 C183.3 36.7 173.3 29.2 170.0 20.0 C166.7 10.8 165.8 -5.0 165.0 -10.0" fill="none" stroke="#000" stroke-width="5.5" stroke-linejoin="round" stroke-linecap="round"/>
<path d="M110 95 L150 100 L200 95 L215 115 L250 105" fill="none" stroke="#000" stroke-width="5.5" stroke-linejoin="round" stroke-linecap="round"/>
<path d="M250 -10 L265 15 L300 20 L290 60 L275 90 L280 105" fill="none" stroke="#000" stroke-width="8" stroke-linejoin="round" stroke-linecap="round"/>
<path d="M250 105 L280 105 L320 95 L380 105 L430 72 L455 88 L500 58 L545 48 L580 55 L615 56" fill="none" stroke="#000" stroke-width="8" stroke-linejoin="round" stroke-linecap="round"/>
<path d="M280.0 105.0 C285.0 107.5 301.7 110.8 310.0 120.0 C318.3 129.2 323.3 149.2 330.0 160.0 C336.7 170.8 340.8 180.0 350.0 185.0 C359.2 190.0 376.7 185.8 385.0 190.0 C393.3 194.2 390.8 205.8 400.0 210.0 C409.2 214.2 428.3 215.8 440.0 215.0 C451.7 214.2 460.0 204.2 470.0 205.0 C480.0 205.8 490.0 214.5 500.0 220.0 C510.0 225.5 520.0 233.8 530.0 238.0 C540.0 242.2 545.8 242.5 560.0 245.0 C574.2 247.5 605.8 251.7 615.0 253.0" fill="none" stroke="#000" stroke-width="8" stroke-linejoin="round" stroke-linecap="round"/>
<path d="M605.0 290.0 C599.2 295.0 579.2 310.0 570.0 320.0 C560.8 330.0 555.0 336.7 550.0 350.0 C545.0 363.3 544.2 385.0 540.0 400.0 C535.8 415.0 529.2 426.7 525.0 440.0 C520.8 453.3 518.3 466.7 515.0 480.0 C511.7 493.3 507.5 506.7 505.0 520.0 C502.5 533.3 502.5 546.7 500.0 560.0 C497.5 573.3 490.0 588.3 490.0 600.0 C490.0 611.7 495.0 621.7 500.0 630.0 C505.0 638.3 510.0 647.0 520.0 650.0 C530.0 653.0 544.2 649.7 560.0 648.0 C575.8 646.3 605.8 641.3 615.0 640.0" fill="none" stroke="#000" stroke-width="8" stroke-linejoin="round" stroke-linecap="round"/>
<path d="M490 650 L470 670 L440 680 L420 660 L395 665 L380 690 L400 700 L385 730 L360 760 L340 795" fill="none" stroke="#000" stroke-width="6" stroke-linejoin="round" stroke-linecap="round"/>
<path d="M432 765 L405 787" fill="none" stroke="#000" stroke-width="7" stroke-linejoin="round" stroke-linecap="round"/></g></g>
<clipPath id="t10"><rect x="190" y="440" width="150" height="195"/></clipPath><g clip-path="url(#t10)"><rect x="190" y="440" width="150" height="195" fill="#ff4026"/><g transform="translate(190,440) scale(0.25)"><path d="M130.0 185.0 C134.0 170.3 150.0 157.6 160.0 150.0 C170.0 142.4 193.0 130.0 205.0 128.0 C217.0 126.0 238.7 130.7 250.0 135.0 C261.3 139.3 280.0 154.0 290.0 160.0 C300.0 166.0 319.0 172.7 325.0 180.0 C331.0 187.3 333.0 206.3 335.0 215.0 C337.0 223.7 331.3 240.3 340.0 245.0 C348.7 249.7 388.0 245.3 400.0 250.0 C412.0 254.7 424.7 268.0 430.0 280.0 C435.3 292.0 440.0 326.7 440.0 340.0 C440.0 353.3 428.7 372.0 430.0 380.0 C431.3 388.0 444.7 400.0 450.0 400.0 C455.3 400.0 460.7 384.7 470.0 380.0 C479.3 375.3 508.0 370.3 520.0 365.0 C532.0 359.7 550.7 348.7 560.0 340.0 C569.3 331.3 582.7 309.3 590.0 300.0 C597.3 290.7 611.7 216.7 615.0 270.0 C618.3 323.3 698.3 642.7 615.0 700.0 C531.7 757.3 73.3 704.8 -10.0 700.0 C-93.3 695.2 -16.0 670.1 -10.0 664.0 C-4.0 657.9 24.3 657.5 35.0 654.0 C45.7 650.5 60.0 642.9 70.0 638.0 C80.0 633.1 99.3 623.1 110.0 617.0 C120.7 610.9 138.7 597.7 150.0 592.0 C161.3 586.3 186.2 582.3 195.0 574.0 C203.8 565.7 213.7 541.9 216.0 530.0 C218.3 518.1 215.5 495.0 212.0 485.0 C208.5 475.0 199.6 461.0 190.0 455.0 C180.4 449.0 150.0 447.3 140.0 440.0 C130.0 432.7 117.7 408.0 115.0 400.0 C112.3 392.0 120.0 389.3 120.0 380.0 C120.0 370.7 113.7 346.0 115.0 330.0 C116.3 314.0 128.0 279.3 130.0 260.0 C132.0 240.7 126.0 199.7 130.0 185.0Z" fill="#ec6e0a" stroke="none" stroke-width="0" />
<path d="M395.0 -10.0 C359.2 1.7 400.8 43.3 410.0 60.0 C419.2 76.7 435.0 85.8 450.0 90.0 C465.0 94.2 485.8 89.2 500.0 85.0 C514.2 80.8 523.3 70.0 535.0 65.0 C546.7 60.0 557.5 55.0 570.0 55.0 C582.5 55.0 600.8 59.2 610.0 65.0 C619.2 70.8 622.5 102.5 625.0 90.0 C627.5 77.5 663.3 6.7 625.0 -10.0 C586.7 -26.7 430.8 -21.7 395.0 -10.0Z" fill="#ec6e0a" stroke="none" stroke-width="0" />
<path d="M35.0 70.0 C37.8 61.7 47.8 56.7 55.0 60.0 C62.2 63.3 73.8 76.7 78.0 90.0 C82.2 103.3 82.2 126.7 80.0 140.0 C77.8 153.3 70.8 168.3 65.0 170.0 C59.2 171.7 49.5 160.0 45.0 150.0 C40.5 140.0 39.7 123.3 38.0 110.0 C36.3 96.7 32.2 78.3 35.0 70.0Z" fill="#ec6e0a" stroke="none" stroke-width="0" />
<path d="M185.0 420.0 C187.7 416.7 210.0 421.0 220.0 425.0 C230.0 429.0 250.7 441.3 260.0 450.0 C269.3 458.7 284.7 478.0 290.0 490.0 C295.3 502.0 297.3 528.0 300.0 540.0 C302.7 552.0 304.7 573.3 310.0 580.0 C315.3 586.7 330.7 590.0 340.0 590.0 C349.3 590.0 369.3 583.3 380.0 580.0 C390.7 576.7 411.3 566.3 420.0 565.0 C428.7 563.7 441.7 558.7 445.0 570.0 C448.3 581.3 451.0 638.0 445.0 650.0 C439.0 662.0 411.3 651.3 400.0 660.0 C388.7 668.7 369.3 707.7 360.0 715.0 C350.7 722.3 336.7 722.3 330.0 715.0 C323.3 707.7 316.7 668.0 310.0 660.0 C303.3 652.0 309.3 655.7 280.0 655.0 C250.7 654.3 114.7 659.7 90.0 655.0 C65.3 650.3 88.3 626.0 95.0 620.0 C101.7 614.0 128.7 612.0 140.0 610.0 C151.3 608.0 170.7 609.0 180.0 605.0 C189.3 601.0 204.0 588.7 210.0 580.0 C216.0 571.3 223.7 552.0 225.0 540.0 C226.3 528.0 223.3 502.0 220.0 490.0 C216.7 478.0 204.7 459.3 200.0 450.0 C195.3 440.7 182.3 423.3 185.0 420.0Z" fill="#e69c0c" stroke="none" stroke-width="0" />
<path d="M445.0 -10.0 C433.0 -4.2 444.2 16.7 450.0 25.0 C455.8 33.3 469.2 39.2 480.0 40.0 C490.8 40.8 508.0 38.3 515.0 30.0 C522.0 21.7 533.7 -3.3 522.0 -10.0 C510.3 -16.7 457.0 -15.8 445.0 -10.0Z" fill="#e69c0c" stroke="none" stroke-width="0" />
<path d="M585.0 -10.0 L595.0 15.0 L620.0 40.0 L620.0 -10.0Z" fill="#e69c0c" stroke="none" stroke-width="0" />
<path d="M255.0 310.0 C257.8 296.7 264.2 280.8 275.0 270.0 C285.8 259.2 304.2 249.2 320.0 245.0 C335.8 240.8 355.0 240.8 370.0 245.0 C385.0 249.2 400.8 257.5 410.0 270.0 C419.2 282.5 424.2 301.7 425.0 320.0 C425.8 338.3 421.7 363.3 415.0 380.0 C408.3 396.7 395.8 410.0 385.0 420.0 C374.2 430.0 362.5 440.0 350.0 440.0 C337.5 440.0 322.5 428.3 310.0 420.0 C297.5 411.7 283.7 401.7 275.0 390.0 C266.3 378.3 261.3 363.3 258.0 350.0 C254.7 336.7 252.2 323.3 255.0 310.0Z" fill="#b53667" stroke="none" stroke-width="0" />
<path d="M285.0 340.0 C284.2 326.7 291.7 313.3 300.0 305.0 C308.3 296.7 322.5 290.8 335.0 290.0 C347.5 289.2 364.2 293.3 375.0 300.0 C385.8 306.7 396.7 317.5 400.0 330.0 C403.3 342.5 400.0 363.3 395.0 375.0 C390.0 386.7 379.2 395.0 370.0 400.0 C360.8 405.0 350.8 407.5 340.0 405.0 C329.2 402.5 314.2 395.8 305.0 385.0 C295.8 374.2 285.8 353.3 285.0 340.0Z" fill="#762d9c" stroke="none" stroke-width="0" />
<path d="M-25.0 440.0 C-19.7 406.4 -6.0 410.7 0.0 400.0 C6.0 389.3 13.3 366.7 20.0 360.0 C26.7 353.3 42.0 348.7 50.0 350.0 C58.0 351.3 74.0 362.0 80.0 370.0 C86.0 378.0 89.7 402.0 95.0 410.0 C100.3 418.0 111.3 424.7 120.0 430.0 C128.7 435.3 151.3 442.0 160.0 450.0 C168.7 458.0 179.7 480.0 185.0 490.0 C190.3 500.0 200.1 515.7 200.0 525.0 C199.9 534.3 191.5 552.9 184.0 560.0 C176.5 567.1 154.7 572.4 144.0 578.0 C133.3 583.6 114.7 596.1 104.0 602.0 C93.3 607.9 73.6 617.2 64.0 622.0 C54.4 626.8 40.5 634.5 32.0 638.0 C23.5 641.5 9.6 646.1 0.0 648.0 C-9.6 649.9 -36.7 679.7 -40.0 652.0 C-43.3 624.3 -30.3 473.6 -25.0 440.0Z" fill="#b53667" stroke="none" stroke-width="0" />
<path d="M35.0 310.0 C35.0 304.0 38.3 295.7 45.0 292.0 C51.7 288.3 67.8 285.8 75.0 288.0 C82.2 290.2 88.0 298.8 88.0 305.0 C88.0 311.2 82.2 321.2 75.0 325.0 C67.8 328.8 51.7 330.5 45.0 328.0 C38.3 325.5 35.0 316.0 35.0 310.0Z" fill="#b53667" stroke="none" stroke-width="0" />
<path d="M-10.0 545.0 C-5.8 538.3 10.0 545.0 15.0 550.0 C20.0 555.0 24.2 568.3 20.0 575.0 C15.8 581.7 -5.0 595.0 -10.0 590.0 C-15.0 585.0 -14.2 551.7 -10.0 545.0Z" fill="#762d9c" stroke="none" stroke-width="0" />
<path d="M30.0 -10.0 C5.0 -5.8 31.7 9.2 40.0 15.0 C48.3 20.8 65.0 24.2 80.0 25.0 C95.0 25.8 113.3 22.5 130.0 20.0 C146.7 17.5 170.0 15.0 180.0 10.0 C190.0 5.0 215.0 -6.7 190.0 -10.0 C165.0 -13.3 55.0 -14.2 30.0 -10.0Z" fill="#b53667" stroke="none" stroke-width="0" />
<path d="M-50.0 235.0 C-44.0 229.0 -10.7 221.7 0.0 225.0 C10.7 228.3 27.3 248.7 30.0 260.0 C32.7 271.3 26.7 304.0 20.0 310.0 C13.3 316.0 -11.3 310.3 -20.0 305.0 C-28.7 299.7 -41.0 279.3 -45.0 270.0 C-49.0 260.7 -56.0 241.0 -50.0 235.0Z" fill="#b53667" stroke="none" stroke-width="0" />
<path d="M-130.0 130.0 C-130.0 115.3 -122.3 89.1 -113.0 80.0 C-103.7 70.9 -73.1 63.6 -60.0 62.0 C-46.9 60.4 -26.7 64.5 -15.0 68.0 C-3.3 71.5 19.9 80.0 28.0 88.0 C36.1 96.0 43.9 115.1 46.0 128.0 C48.1 140.9 48.1 172.1 44.0 185.0 C39.9 197.9 24.9 217.9 15.0 225.0 C5.1 232.1 -18.0 238.0 -30.0 238.0 C-42.0 238.0 -63.9 231.4 -75.0 225.0 C-86.1 218.6 -105.7 202.7 -113.0 190.0 C-120.3 177.3 -130.0 144.7 -130.0 130.0Z" fill="#762d9c" stroke="none" stroke-width="0" />
<path d="M-120.0 130.0 C-120.0 117.1 -113.0 95.7 -105.0 88.0 C-97.0 80.3 -71.6 73.3 -60.0 72.0 C-48.4 70.7 -28.7 74.9 -18.0 78.0 C-7.3 81.1 12.5 88.1 20.0 95.0 C27.5 101.9 35.9 118.7 38.0 130.0 C40.1 141.3 39.7 168.7 36.0 180.0 C32.3 191.3 18.8 208.7 10.0 215.0 C1.2 221.3 -19.1 227.0 -30.0 227.0 C-40.9 227.0 -62.0 220.6 -72.0 215.0 C-82.0 209.4 -98.6 196.3 -105.0 185.0 C-111.4 173.7 -120.0 142.9 -120.0 130.0Z" fill="#4626b4" stroke="none" stroke-width="0" />
<path d="M-110.0 130.0 C-110.0 118.7 -103.7 101.4 -97.0 95.0 C-90.3 88.6 -70.0 83.1 -60.0 82.0 C-50.0 80.9 -31.6 84.3 -22.0 87.0 C-12.4 89.7 5.1 96.0 12.0 102.0 C18.9 108.0 27.9 122.3 30.0 132.0 C32.1 141.7 31.3 165.3 28.0 175.0 C24.7 184.7 12.7 199.7 5.0 205.0 C-2.7 210.3 -20.3 215.0 -30.0 215.0 C-39.7 215.0 -59.1 209.7 -68.0 205.0 C-76.9 200.3 -91.4 190.0 -97.0 180.0 C-102.6 170.0 -110.0 141.3 -110.0 130.0Z" fill="#2a2685" stroke="none" stroke-width="0" />
<path d="M-102.0 130.0 C-102.0 120.3 -95.6 107.3 -90.0 102.0 C-84.4 96.7 -68.7 90.9 -60.0 90.0 C-51.3 89.1 -33.7 92.3 -25.0 95.0 C-16.3 97.7 -1.3 104.7 5.0 110.0 C11.3 115.3 20.0 127.0 22.0 135.0 C24.0 143.0 22.9 162.0 20.0 170.0 C17.1 178.0 6.7 190.3 0.0 195.0 C-6.7 199.7 -21.3 205.0 -30.0 205.0 C-38.7 205.0 -57.0 199.0 -65.0 195.0 C-73.0 191.0 -85.1 183.7 -90.0 175.0 C-94.9 166.3 -102.0 139.7 -102.0 130.0Z" fill="#0e0e2e" stroke="none" stroke-width="0" />
<path d="M-88.0 130.0 C-86.7 124.0 -80.1 117.4 -75.0 115.0 C-69.9 112.6 -56.7 110.7 -50.0 112.0 C-43.3 113.3 -30.3 121.3 -25.0 125.0 C-19.7 128.7 -14.0 136.7 -10.0 140.0 C-6.0 143.3 3.0 145.3 5.0 150.0 C7.0 154.7 7.7 170.3 5.0 175.0 C2.3 179.7 -9.0 185.7 -15.0 185.0 C-21.0 184.3 -33.3 172.0 -40.0 170.0 C-46.7 168.0 -59.0 171.3 -65.0 170.0 C-71.0 168.7 -81.9 165.3 -85.0 160.0 C-88.1 154.7 -89.3 136.0 -88.0 130.0Z" fill="#000000" stroke="none" stroke-width="0" />
<path d="M445.0 520.0 C447.0 505.3 449.0 479.3 455.0 470.0 C461.0 460.7 480.0 452.0 490.0 450.0 C500.0 448.0 520.0 451.0 530.0 455.0 C540.0 459.0 555.7 472.7 565.0 480.0 C574.3 487.3 590.0 502.7 600.0 510.0 C610.0 517.3 629.3 527.0 640.0 535.0 C650.7 543.0 669.3 560.7 680.0 570.0 C690.7 579.3 710.7 598.3 720.0 605.0 C729.3 611.7 746.7 614.7 750.0 620.0 C753.3 625.3 751.7 641.0 745.0 645.0 C738.3 649.0 712.7 648.7 700.0 650.0 C687.3 651.3 663.3 653.0 650.0 655.0 C636.7 657.0 613.3 663.0 600.0 665.0 C586.7 667.0 563.3 670.0 550.0 670.0 C536.7 670.0 512.0 667.0 500.0 665.0 C488.0 663.0 468.0 659.7 460.0 655.0 C452.0 650.3 442.7 640.0 440.0 630.0 C437.3 620.0 439.3 594.7 440.0 580.0 C440.7 565.3 443.0 534.7 445.0 520.0Z" fill="#ff4026" stroke="none" stroke-width="0" />
<path d="M465.0 550.0 C465.3 542.7 465.3 526.0 470.0 520.0 C474.7 514.0 490.7 506.3 500.0 505.0 C509.3 503.7 530.7 506.0 540.0 510.0 C549.3 514.0 562.0 527.7 570.0 535.0 C578.0 542.3 592.0 557.7 600.0 565.0 C608.0 572.3 624.0 583.3 630.0 590.0 C636.0 596.7 644.3 609.7 645.0 615.0 C645.7 620.3 641.0 629.3 635.0 630.0 C629.0 630.7 610.0 620.7 600.0 620.0 C590.0 619.3 570.7 625.0 560.0 625.0 C549.3 625.0 530.0 623.3 520.0 620.0 C510.0 616.7 491.9 606.0 485.0 600.0 C478.1 594.0 470.7 581.7 468.0 575.0 C465.3 568.3 464.7 557.3 465.0 550.0Z" fill="#b53667" stroke="none" stroke-width="0" />
<path d="M488.0 552.0 C488.7 548.9 497.7 543.9 500.0 545.0 C502.3 546.1 505.7 556.9 505.0 560.0 C504.3 563.1 497.3 569.1 495.0 568.0 C492.7 566.9 487.3 555.1 488.0 552.0Z" fill="#762d9c" stroke="none" stroke-width="0" />
<path d="M508.0 575.0 C510.0 571.8 520.7 567.3 525.0 568.0 C529.3 568.7 539.3 576.4 540.0 580.0 C540.7 583.6 534.0 593.4 530.0 595.0 C526.0 596.6 512.9 594.7 510.0 592.0 C507.1 589.3 506.0 578.2 508.0 575.0Z" fill="#762d9c" stroke="none" stroke-width="0" />
<path d="M622.0 612.0 C622.7 609.9 632.3 607.2 635.0 608.0 C637.7 608.8 642.7 615.9 642.0 618.0 C641.3 620.1 632.7 624.8 630.0 624.0 C627.3 623.2 621.3 614.1 622.0 612.0Z" fill="#762d9c" stroke="none" stroke-width="0" />
<path d="M395.0 655.0 L430.0 648.0 L460.0 658.0 L500.0 655.0 L530.0 668.0 L570.0 665.0 L610.0 655.0 L650.0 648.0 L692.0 642.0 L692.0 686.0 L395.0 686.0Z" fill="#b53667" stroke="none" stroke-width="0" />
<path d="M395.0 665.0 L460.0 670.0 L530.0 678.0 L610.0 665.0 L692.0 655.0 L692.0 686.0 L395.0 686.0Z" fill="#762d9c" stroke="none" stroke-width="0" />
<path d="M420.0 678.0 L500.0 681.0 L600.0 675.0 L688.0 668.0 L688.0 686.0 L420.0 686.0Z" fill="#4626b4" stroke="none" stroke-width="0" />
<path d="M395.0 575.0 C399.0 564.3 419.0 566.7 425.0 570.0 C431.0 573.3 438.7 590.7 440.0 600.0 C441.3 609.3 441.0 633.3 435.0 640.0 C429.0 646.7 400.3 658.7 395.0 650.0 C389.7 641.3 391.0 585.7 395.0 575.0Z" fill="#e69c0c" stroke="none" stroke-width="0" />
<path d="M-10.0 680.0 L64.0 680.0 L84.0 652.0 L280.0 652.0 L307.0 693.0 L327.0 707.0 L347.0 740.0 L367.0 707.0 L393.0 687.0 L400.0 682.0 L615.0 682.0 L615.0 795.0 L-10.0 795.0Z" fill="#d3d3d3" stroke="none" stroke-width="0" />
<path d="M325.0 707.0 L390.0 707.0 L375.0 725.0 L350.0 742.0Z" fill="#ffffff" stroke="none" stroke-width="0" />
<path d="M495.0 682.0 L545.0 682.0 L530.0 707.0 L507.0 707.0Z" fill="#ffffff" stroke="none" stroke-width="0" />
<path d="M385.0 700.0 L400.0 682.0 L445.0 682.0 L430.0 707.0 L385.0 707.0Z" fill="#ffffff" stroke="none" stroke-width="0" />
<path d="M215.0 745.0 L240.0 745.0 L240.0 775.0 L215.0 775.0Z" fill="#add8e6" stroke="none" stroke-width="0" />
<path d="M-10 56 L20 40 L45 45 L65 80 L120 58 L170 80 L215 65 L250 35 L238 0 L232 -15" fill="none" stroke="#000" stroke-width="8" stroke-linejoin="round" stroke-linecap="round"/>
<path d="M250 35 L255 80 L275 125 L360 150 L400 230 L430 290 L400 360 L410 385 L385 400 L370 440 L340 500 L310 560 L290 580 L290 640 L270 665" fill="none" stroke="#000" stroke-width="8" stroke-linejoin="round" stroke-linecap="round"/>
<path d="M-10 250 L18 255 L5 295" fill="none" stroke="#000" stroke-width="8" stroke-linejoin="round" stroke-linecap="round"/>
<path d="M170 580 L200 600 L230 620 L265 645 L290 655 L275 668 L240 645 L210 622 L180 602Z" fill="none" stroke="#000" stroke-width="6" stroke-linejoin="round" stroke-linecap="round"/>
<path d="M-10.0 632.0 C-3.3 630.8 18.3 630.3 30.0 625.0 C41.7 619.7 51.7 605.8 60.0 600.0 C68.3 594.2 73.3 590.0 80.0 590.0 C86.7 590.0 97.5 594.2 100.0 600.0 C102.5 605.8 91.7 623.3 95.0 625.0 C98.3 626.7 110.8 614.2 120.0 610.0 C129.2 605.8 141.7 605.0 150.0 600.0 C158.3 595.0 166.7 583.3 170.0 580.0" fill="none" stroke="#000" stroke-width="8" stroke-linejoin="round" stroke-linecap="round"/>
<path d="M60 595 L70 620 L95 630" fill="none" stroke="#000" stroke-width="7" stroke-linejoin="round" stroke-linecap="round"/>
<path d="M290.0 655.0 C295.0 652.5 310.0 638.3 320.0 640.0 C330.0 641.7 340.0 656.7 350.0 665.0 C360.0 673.3 374.2 680.8 380.0 690.0 C385.8 699.2 381.7 718.3 385.0 720.0 C388.3 721.7 392.5 706.7 400.0 700.0 C407.5 693.3 425.0 690.0 430.0 680.0 C435.0 670.0 425.0 644.2 430.0 640.0 C435.0 635.8 451.7 655.0 460.0 655.0 C468.3 655.0 475.0 645.5 480.0 640.0 C485.0 634.5 488.3 625.0 490.0 622.0" fill="none" stroke="#000" stroke-width="8" stroke-linejoin="round" stroke-linecap="round"/>
<path d="M490.0 640.0 C495.0 644.2 508.3 656.7 520.0 665.0 C531.7 673.3 544.2 687.5 560.0 690.0 C575.8 692.5 605.8 681.7 615.0 680.0" fill="none" stroke="#000" stroke-width="8" stroke-linejoin="round" stroke-linecap="round"/>
<path d="M270.0 665.0 C272.5 670.8 285.8 689.2 285.0 700.0 C284.2 710.8 269.2 715.0 265.0 730.0 C260.8 745.0 260.8 780.0 260.0 790.0" fill="none" stroke="#000" stroke-width="6" stroke-linejoin="round" stroke-linecap="round"/>
<path d="M80.0 705.0 C83.3 710.0 88.3 729.2 100.0 735.0 C111.7 740.8 141.7 739.2 150.0 740.0" fill="none" stroke="#000" stroke-width="7" stroke-linejoin="round" stroke-linecap="round"/>
<path d="M20 750 L30 762" fill="none" stroke="#000" stroke-width="7" stroke-linejoin="round" stroke-linecap="round"/>
<path d="M160 765 L215 770" fill="none" stroke="#000" stroke-width="7" stroke-linejoin="round" stroke-linecap="round"/>
<path d="M553 505 L556 540" fill="none" stroke="#000" stroke-width="9" stroke-linejoin="round" stroke-linecap="round"/>
<path d="M590 530 L600 562" fill="none" stroke="#000" stroke-width="9" stroke-linejoin="round" stroke-linecap="round"/></g></g>
<clipPath id="t11"><rect x="340" y="440" width="150" height="195"/></clipPath><g clip-path="url(#t11)"><rect x="340" y="440" width="150" height="195" fill="#ec6e0a"/><g transform="translate(340,440) scale(0.25)"><path d="M-10.0 58.0 C-6.7 19.0 2.5 59.0 10.0 66.0 C17.5 73.0 30.0 89.3 35.0 100.0 C40.0 110.7 40.8 118.3 40.0 130.0 C39.2 141.7 33.3 158.3 30.0 170.0 C26.7 181.7 23.3 187.5 20.0 200.0 C16.7 212.5 13.3 230.8 10.0 245.0 C6.7 259.2 3.3 275.8 0.0 285.0 C-3.3 294.2 -8.3 337.8 -10.0 300.0 C-11.7 262.2 -13.3 97.0 -10.0 58.0Z" fill="#ff4026" stroke="none" stroke-width="0" />
<path d="M165.0 650.0 C154.2 645.8 166.7 629.2 175.0 625.0 C183.3 620.8 204.2 620.8 215.0 625.0 C225.8 629.2 248.3 645.8 240.0 650.0 C231.7 654.2 175.8 654.2 165.0 650.0Z" fill="#ff4026" stroke="none" stroke-width="0" />
<path d="M-10.0 -10.0 C-46.7 -5.8 -10.0 6.7 -5.0 15.0 C0.0 23.3 10.8 29.2 20.0 40.0 C29.2 50.8 41.7 65.0 50.0 80.0 C58.3 95.0 64.2 116.7 70.0 130.0 C75.8 143.3 76.7 152.5 85.0 160.0 C93.3 167.5 105.8 175.0 120.0 175.0 C134.2 175.0 156.7 165.8 170.0 160.0 C183.3 154.2 190.8 150.0 200.0 140.0 C209.2 130.0 222.5 115.0 225.0 100.0 C227.5 85.0 220.0 61.7 215.0 50.0 C210.0 38.3 195.0 40.0 195.0 30.0 C195.0 20.0 249.2 -3.3 215.0 -10.0 C180.8 -16.7 26.7 -14.2 -10.0 -10.0Z" fill="#e69c0c" stroke="none" stroke-width="0" />
<path d="M130.0 200.0 C135.5 200.8 147.2 227.5 148.0 240.0 C148.8 252.5 140.5 271.7 135.0 275.0 C129.5 278.3 118.3 266.7 115.0 260.0 C111.7 253.3 112.5 245.0 115.0 235.0 C117.5 225.0 124.5 199.2 130.0 200.0Z" fill="#e69c0c" stroke="none" stroke-width="0" />
<path d="M290.0 430.0 C290.0 418.3 293.3 400.0 300.0 390.0 C306.7 380.0 320.0 370.8 330.0 370.0 C340.0 369.2 352.5 376.7 360.0 385.0 C367.5 393.3 373.3 409.2 375.0 420.0 C376.7 430.8 377.5 442.5 370.0 450.0 C362.5 457.5 341.7 463.3 330.0 465.0 C318.3 466.7 306.7 465.8 300.0 460.0 C293.3 454.2 290.0 441.7 290.0 430.0Z" fill="#e69c0c" stroke="none" stroke-width="0" />
<path d="M240.0 495.0 C242.5 489.2 256.7 487.5 265.0 490.0 C273.3 492.5 288.3 503.3 290.0 510.0 C291.7 516.7 281.7 527.5 275.0 530.0 C268.3 532.5 255.8 530.8 250.0 525.0 C244.2 519.2 237.5 500.8 240.0 495.0Z" fill="#e69c0c" stroke="none" stroke-width="0" />
<path d="M335.0 240.0 C336.3 234.3 344.0 223.1 350.0 222.0 C356.0 220.9 368.0 222.9 380.0 232.0 C392.0 241.1 429.6 278.3 440.0 290.0 C450.4 301.7 458.0 315.3 458.0 320.0 C458.0 324.7 447.7 326.3 440.0 325.0 C432.3 323.7 410.7 315.3 400.0 310.0 C389.3 304.7 368.0 291.0 360.0 285.0 C352.0 279.0 343.3 271.0 340.0 265.0 C336.7 259.0 333.7 245.7 335.0 240.0Z" fill="#b53667" stroke="none" stroke-width="0" />
<path d="M345.0 245.0 C345.8 240.2 352.7 232.0 358.0 232.0 C363.3 232.0 374.1 236.6 385.0 245.0 C395.9 253.4 431.3 285.3 440.0 295.0 C448.7 304.7 452.7 316.0 450.0 318.0 C447.3 320.0 429.3 313.7 420.0 310.0 C410.7 306.3 389.1 295.6 380.0 290.0 C370.9 284.4 356.7 274.0 352.0 268.0 C347.3 262.0 344.2 249.8 345.0 245.0Z" fill="#762d9c" stroke="none" stroke-width="0" />
<path d="M352.0 248.0 C350.7 242.7 359.3 238.4 365.0 240.0 C370.7 241.6 385.0 252.0 395.0 260.0 C405.0 268.0 433.3 292.7 440.0 300.0 C446.7 307.3 449.0 315.0 445.0 315.0 C441.0 315.0 419.3 304.7 410.0 300.0 C400.7 295.3 382.7 286.9 375.0 280.0 C367.3 273.1 353.3 253.3 352.0 248.0Z" fill="#4626b4" stroke="none" stroke-width="0" />
<path d="M375.0 240.0 C375.7 236.7 391.3 239.0 400.0 245.0 C408.7 251.0 433.3 276.3 440.0 285.0 C446.7 293.7 452.0 308.7 450.0 310.0 C448.0 311.3 432.3 300.3 425.0 295.0 C417.7 289.7 401.7 277.3 395.0 270.0 C388.3 262.7 374.3 243.3 375.0 240.0Z" fill="#000000" stroke="none" stroke-width="0" />
<path d="M215.0 640.0 L240.0 620.0 L290.0 615.0 L322.0 620.0 L322.0 670.0 L305.0 705.0 L280.0 705.0 L255.0 680.0Z" fill="#b53667" stroke="none" stroke-width="0" />
<path d="M225.0 650.0 L322.0 640.0 L322.0 672.0 L305.0 705.0 L280.0 705.0 L255.0 680.0Z" fill="#762d9c" stroke="none" stroke-width="0" />
<path d="M250.0 672.0 L322.0 660.0 L322.0 672.0 L305.0 705.0 L280.0 705.0Z" fill="#4626b4" stroke="none" stroke-width="0" />
<path d="M-155.0 520.0 C-153.0 505.3 -151.0 479.3 -145.0 470.0 C-139.0 460.7 -120.0 452.0 -110.0 450.0 C-100.0 448.0 -80.0 451.0 -70.0 455.0 C-60.0 459.0 -44.3 472.7 -35.0 480.0 C-25.7 487.3 -10.0 502.7 0.0 510.0 C10.0 517.3 29.3 527.0 40.0 535.0 C50.7 543.0 69.3 560.7 80.0 570.0 C90.7 579.3 110.7 598.3 120.0 605.0 C129.3 611.7 146.7 614.7 150.0 620.0 C153.3 625.3 151.7 641.0 145.0 645.0 C138.3 649.0 112.7 648.7 100.0 650.0 C87.3 651.3 63.3 653.0 50.0 655.0 C36.7 657.0 13.3 663.0 0.0 665.0 C-13.3 667.0 -36.7 670.0 -50.0 670.0 C-63.3 670.0 -88.0 667.0 -100.0 665.0 C-112.0 663.0 -132.0 659.7 -140.0 655.0 C-148.0 650.3 -157.3 640.0 -160.0 630.0 C-162.7 620.0 -160.7 594.7 -160.0 580.0 C-159.3 565.3 -157.0 534.7 -155.0 520.0Z" fill="#ff4026" stroke="none" stroke-width="0" />
<path d="M-135.0 550.0 C-134.7 542.7 -134.7 526.0 -130.0 520.0 C-125.3 514.0 -109.3 506.3 -100.0 505.0 C-90.7 503.7 -69.3 506.0 -60.0 510.0 C-50.7 514.0 -38.0 527.7 -30.0 535.0 C-22.0 542.3 -8.0 557.7 0.0 565.0 C8.0 572.3 24.0 583.3 30.0 590.0 C36.0 596.7 44.3 609.7 45.0 615.0 C45.7 620.3 41.0 629.3 35.0 630.0 C29.0 630.7 10.0 620.7 0.0 620.0 C-10.0 619.3 -29.3 625.0 -40.0 625.0 C-50.7 625.0 -70.0 623.3 -80.0 620.0 C-90.0 616.7 -108.1 606.0 -115.0 600.0 C-121.9 594.0 -129.3 581.7 -132.0 575.0 C-134.7 568.3 -135.3 557.3 -135.0 550.0Z" fill="#b53667" stroke="none" stroke-width="0" />
<path d="M-112.0 552.0 C-111.3 548.9 -102.3 543.9 -100.0 545.0 C-97.7 546.1 -94.3 556.9 -95.0 560.0 C-95.7 563.1 -102.7 569.1 -105.0 568.0 C-107.3 566.9 -112.7 555.1 -112.0 552.0Z" fill="#762d9c" stroke="none" stroke-width="0" />
<path d="M-92.0 575.0 C-90.0 571.8 -79.3 567.3 -75.0 568.0 C-70.7 568.7 -60.7 576.4 -60.0 580.0 C-59.3 583.6 -66.0 593.4 -70.0 595.0 C-74.0 596.6 -87.1 594.7 -90.0 592.0 C-92.9 589.3 -94.0 578.2 -92.0 575.0Z" fill="#762d9c" stroke="none" stroke-width="0" />
<path d="M22.0 612.0 C22.7 609.9 32.3 607.2 35.0 608.0 C37.7 608.8 42.7 615.9 42.0 618.0 C41.3 620.1 32.7 624.8 30.0 624.0 C27.3 623.2 21.3 614.1 22.0 612.0Z" fill="#762d9c" stroke="none" stroke-width="0" />
<path d="M-205.0 655.0 L-170.0 648.0 L-140.0 658.0 L-100.0 655.0 L-70.0 668.0 L-30.0 665.0 L10.0 655.0 L50.0 648.0 L92.0 642.0 L92.0 686.0 L-205.0 686.0Z" fill="#b53667" stroke="none" stroke-width="0" />
<path d="M-205.0 665.0 L-140.0 670.0 L-70.0 678.0 L10.0 665.0 L92.0 655.0 L92.0 686.0 L-205.0 686.0Z" fill="#762d9c" stroke="none" stroke-width="0" />
<path d="M-180.0 678.0 L-100.0 681.0 L0.0 675.0 L88.0 668.0 L88.0 686.0 L-180.0 686.0Z" fill="#4626b4" stroke="none" stroke-width="0" />
<path d="M215.0 -10.0 L615.0 -10.0 L615.0 795.0 L-10.0 795.0 L-10.0 682.0 L88.0 682.0 L92.0 650.0 L215.0 650.0 L255.0 680.0 L280.0 705.0 L305.0 705.0 L322.0 670.0 L322.0 620.0 L305.0 590.0 L300.0 560.0 L285.0 520.0 L330.0 465.0 L375.0 450.0 L390.0 410.0 L450.0 395.0 L465.0 375.0 L465.0 330.0 L440.0 290.0 L380.0 235.0 L345.0 200.0 L300.0 150.0 L260.0 140.0 L235.0 100.0 L225.0 55.0 L195.0 30.0Z" fill="#d3d3d3" stroke="none" stroke-width="0" />
<path d="M-10.0 682.0 L40.0 682.0 L25.0 705.0 L-10.0 705.0Z" fill="#ffffff" stroke="none" stroke-width="0" />
<path d="M425.0 540.0 L450.0 540.0 L450.0 570.0 L425.0 570.0Z" fill="#add8e6" stroke="none" stroke-width="0" />
<path d="M215 -10 L195 30 L210 45 L235 60 L240 100 L262 145 L300 150 L345 200 L380 235 L440 290 L460 320 L455 340 L500 330 L520 345" fill="none" stroke="#000" stroke-width="8" stroke-linejoin="round" stroke-linecap="round"/>
<path d="M460.0 320.0 C457.5 326.7 450.0 350.0 445.0 360.0 C440.0 370.0 437.5 379.2 430.0 380.0 C422.5 380.8 407.5 365.0 400.0 365.0 C392.5 365.0 386.7 372.5 385.0 380.0 C383.3 387.5 392.5 400.8 390.0 410.0 C387.5 419.2 381.7 428.3 370.0 435.0 C358.3 441.7 336.7 442.5 320.0 450.0 C303.3 457.5 280.0 471.7 270.0 480.0 C260.0 488.3 257.5 490.0 260.0 500.0 C262.5 510.0 278.3 528.3 285.0 540.0 C291.7 551.7 298.3 560.0 300.0 570.0 C301.7 580.0 291.7 591.7 295.0 600.0 C298.3 608.3 315.5 611.7 320.0 620.0 C324.5 628.3 325.3 646.7 322.0 650.0 C318.7 653.3 308.7 645.0 300.0 640.0 C291.3 635.0 281.7 621.7 270.0 620.0 C258.3 618.3 243.3 630.8 230.0 630.0 C216.7 629.2 203.3 617.5 190.0 615.0 C176.7 612.5 163.3 612.5 150.0 615.0 C136.7 617.5 125.0 625.8 110.0 630.0 C95.0 634.2 73.3 635.8 60.0 640.0 C46.7 644.2 41.7 650.0 30.0 655.0 C18.3 660.0 -3.3 667.5 -10.0 670.0" fill="none" stroke="#000" stroke-width="8" stroke-linejoin="round" stroke-linecap="round"/>
<path d="M490.0 310.0 C491.7 313.3 495.0 324.2 500.0 330.0 C505.0 335.8 512.5 340.8 520.0 345.0 C527.5 349.2 536.7 355.0 545.0 355.0 C553.3 355.0 558.3 345.8 570.0 345.0 C581.7 344.2 607.5 349.2 615.0 350.0" fill="none" stroke="#000" stroke-width="8" stroke-linejoin="round" stroke-linecap="round"/>
<path d="M480 305 L512 327" fill="none" stroke="#000" stroke-width="9" stroke-linejoin="round" stroke-linecap="round"/>
<path d="M185 560 L200 548 L215 545 L215 560 L195 568Z" fill="none" stroke="#000" stroke-width="6" stroke-linejoin="round" stroke-linecap="round"/>
<path d="M250 530 L265 545" fill="none" stroke="#000" stroke-width="8" stroke-linejoin="round" stroke-linecap="round"/>
<path d="M150 600 L165 610" fill="none" stroke="#000" stroke-width="7" stroke-linejoin="round" stroke-linecap="round"/>
<path d="M365 570 L387 586" fill="none" stroke="#000" stroke-width="9" stroke-linejoin="round" stroke-linecap="round"/>
<path d="M395 575 L410 540" fill="none" stroke="#000" stroke-width="9" stroke-linejoin="round" stroke-linecap="round"/>
<path d="M373 595 L390 600" fill="none" stroke="#000" stroke-width="8" stroke-linejoin="round" stroke-linecap="round"/>
<path d="M450 545 L450 575" fill="none" stroke="#000" stroke-width="7" stroke-linejoin="round" stroke-linecap="round"/>
<path d="M515 80 L520 106" fill="none" stroke="#000" stroke-width="9" stroke-linejoin="round" stroke-linecap="round"/>
<path d="M130 776 L160 772" fill="none" stroke="#000" stroke-width="7" stroke-linejoin="round" stroke-linecap="round"/></g></g>
<clipPath id="t12"><rect x="490" y="440" width="66" height="195"/></clipPath><g clip-path="url(#t12)"><rect x="490" y="440" width="66" height="195" fill="#d3d3d3"/><g transform="translate(440,440) scale(0.25)"><path d="M150 368 L170 345 L210 360 L220 330 L240 305 L265 300 L268 240 L295 245 L300 262 L325 248 L360 265 L400 283 L425 280 L460 300" fill="none" stroke="#000" stroke-width="7" stroke-linejoin="round" stroke-linecap="round"/></g></g>
<g transform="translate(270,48) scale(0.25)"><path d="M65.0 22.0 C64.4 23.8 80.9 36.1 85.0 40.0 C89.1 43.9 95.9 52.1 100.0 55.0 C104.1 57.9 117.1 65.0 120.0 65.0 C122.9 65.0 126.8 57.9 125.0 55.0 C123.2 52.1 109.1 43.5 105.0 40.0 C100.9 36.5 94.7 27.1 90.0 25.0 C85.3 22.9 65.6 20.2 65.0 22.0Z" fill="#d3d3d3" stroke="#000" stroke-width="6.5" stroke-linejoin="round"/>
<path d="M150.0 60.0 C151.2 54.2 157.1 42.9 160.0 40.0 C162.9 37.1 172.1 35.0 175.0 35.0 C177.9 35.0 185.3 37.1 185.0 40.0 C184.7 42.9 174.7 53.0 172.0 60.0 C169.3 67.0 164.6 96.5 162.0 100.0 C159.4 103.5 151.4 94.7 150.0 90.0 C148.6 85.3 148.8 65.8 150.0 60.0Z" fill="#d3d3d3" stroke="#000" stroke-width="6.5" stroke-linejoin="round"/>
<path d="M205.0 70.0 C205.0 64.8 210.9 45.2 215.0 40.0 C219.1 34.8 233.6 26.2 240.0 25.0 C246.4 23.8 264.2 30.0 270.0 30.0 C275.8 30.0 285.3 23.8 290.0 25.0 C294.7 26.2 305.3 37.7 310.0 40.0 C314.7 42.3 325.9 46.2 330.0 45.0 C334.1 43.8 340.3 28.8 345.0 30.0 C349.7 31.2 365.3 48.0 370.0 55.0 C374.7 62.0 385.0 84.2 385.0 90.0 C385.0 95.8 374.1 101.5 370.0 105.0 C365.9 108.5 355.8 117.7 350.0 120.0 C344.2 122.3 325.8 123.2 320.0 125.0 C314.2 126.8 305.8 136.8 300.0 135.0 C294.2 133.2 277.0 115.2 270.0 110.0 C263.0 104.8 246.4 92.9 240.0 90.0 C233.6 87.1 219.1 87.3 215.0 85.0 C210.9 82.7 205.0 75.2 205.0 70.0Z" fill="#d3d3d3" stroke="#000" stroke-width="6.5" stroke-linejoin="round"/>
<path d="M345.0 30.0 C343.8 27.7 354.2 39.4 360.0 40.0 C365.8 40.6 388.0 34.4 395.0 35.0 C402.0 35.6 418.2 39.8 420.0 45.0 C421.8 50.2 413.5 72.4 410.0 80.0 C406.5 87.6 392.9 101.8 390.0 110.0 C387.1 118.2 386.8 148.8 385.0 150.0 C383.2 151.2 375.0 126.4 375.0 120.0 C375.0 113.6 385.6 102.0 385.0 95.0 C384.4 88.0 374.7 67.6 370.0 60.0 C365.3 52.4 346.2 32.3 345.0 30.0Z" fill="#d3d3d3" stroke="#000" stroke-width="6.5" stroke-linejoin="round"/>
<path d="M400.0 30.0 C402.3 27.1 421.8 21.8 430.0 20.0 C438.2 18.2 461.8 14.4 470.0 15.0 C478.2 15.6 498.8 22.7 500.0 25.0 C501.2 27.3 487.0 33.2 480.0 35.0 C473.0 36.8 448.2 38.8 440.0 40.0 C431.8 41.2 414.7 46.2 410.0 45.0 C405.3 43.8 397.7 32.9 400.0 30.0Z" fill="#d3d3d3" stroke="#000" stroke-width="6.5" stroke-linejoin="round"/>
<path d="M0.0 12.0 C2.6 9.4 18.7 15.0 22.0 18.0 C25.3 21.0 29.2 34.9 28.0 38.0 C26.8 41.1 15.3 44.8 12.0 45.0 C8.7 45.2 1.4 43.9 0.0 40.0 C-1.4 36.1 -2.6 14.6 0.0 12.0Z" fill="#d3d3d3" stroke="#000" stroke-width="6.5" stroke-linejoin="round"/></g>
<circle cx="372.50" cy="117.00" r="4.3" fill="#ff0000" stroke="#000" stroke-width="1.6"/>
<circle cx="276.00" cy="159.50" r="4.3" fill="#ff0000" stroke="#000" stroke-width="1.6"/>
<circle cx="221.75" cy="203.75" r="4.3" fill="#ff0000" stroke="#000" stroke-width="1.6"/>
<circle cx="262.00" cy="248.75" r="4.3" fill="#ff0000" stroke="#000" stroke-width="1.6"/>
<circle cx="350.00" cy="276.75" r="4.3" fill="#ff0000" stroke="#000" stroke-width="1.6"/>
<circle cx="430.00" cy="248.75" r="4.3" fill="#ff0000" stroke="#000" stroke-width="1.6"/>
<circle cx="475.75" cy="299.50" r="4.3" fill="#ff0000" stroke="#000" stroke-width="1.6"/>
<circle cx="150.75" cy="323.00" r="4.3" fill="#ff0000" stroke="#000" stroke-width="1.6"/>
<circle cx="274.50" cy="320.50" r="4.3" fill="#ff0000" stroke="#000" stroke-width="1.6"/>
<circle cx="390.00" cy="334.50" r="4.3" fill="#ff0000" stroke="#000" stroke-width="1.6"/>
<circle cx="320.75" cy="360.00" r="4.3" fill="#ff0000" stroke="#000" stroke-width="1.6"/>
<circle cx="450.00" cy="348.75" r="4.3" fill="#ff0000" stroke="#000" stroke-width="1.6"/>
<circle cx="211.75" cy="426.75" r="4.3" fill="#ff0000" stroke="#000" stroke-width="1.6"/>
<circle cx="325.75" cy="465.75" r="4.3" fill="#ff0000" stroke="#000" stroke-width="1.6"/>
<circle cx="239.50" cy="514.00" r="4.3" fill="#ff0000" stroke="#000" stroke-width="1.6"/>
<circle cx="347.50" cy="560.00" r="4.3" fill="#ff0000" stroke="#000" stroke-width="1.6"/>
<circle cx="177.00" cy="569.75" r="4.3" fill="#ff0000" stroke="#000" stroke-width="1.6"/>
<text class="ct" transform="translate(374.00,117.30) scale(1.15,1)">Rostock</text>
<text class="ct" transform="translate(277.50,159.80) scale(1.15,1)">Hamburg</text>
<text class="ct" transform="translate(223.25,204.05) scale(1.15,1)">Bremen</text>
<text class="ct" transform="translate(263.50,249.05) scale(1.15,1)">Hannover</text>
<text class="ct" transform="translate(351.50,277.05) scale(1.15,1)">Magdeburg</text>
<text class="ct" transform="translate(431.50,249.05) scale(1.15,1)">Berlin</text>
<text class="ct" transform="translate(477.25,299.80) scale(1.15,1)">Cottbus</text>
<text class="ct" transform="translate(152.25,323.30) scale(1.15,1)">Bochum</text>
<text class="ct" transform="translate(276.00,320.80) scale(1.15,1)">Goettingen</text>
<text class="ct" transform="translate(391.50,334.80) scale(1.15,1)">Leipzig</text>
<text class="ct" transform="translate(322.25,360.30) scale(1.15,1)">Erfurt</text>
<text class="ct" transform="translate(451.50,349.05) scale(1.15,1)">Dresden</text>
<text class="ct" transform="translate(213.25,427.05) scale(1.15,1)">Frankfurt-Main</text>
<text class="ct" transform="translate(327.25,466.05) scale(1.15,1)">Nuernberg</text>
<text class="ct" transform="translate(241.00,514.30) scale(1.15,1)">Stuttgart</text>
<text class="ct" transform="translate(349.00,560.30) scale(1.15,1)">Muenchen</text>
<text class="ct" transform="translate(178.50,570.05) scale(1.15,1)">Freiburg</text>
</g>
<rect x="45.8" y="50.8" width="507.9" height="588.9" fill="none" stroke="#000" stroke-width="1.6"/>
<path d="M69.5 668.7 L46.3 683.2 L69.5 697.8 Z" fill="#fff"/>
<rect x="69.50" y="668.7" width="42.16" height="29.1" fill="#f6f6d1"/>
<rect x="111.36" y="668.7" width="42.16" height="29.1" fill="#e6e276"/>
<rect x="153.23" y="668.7" width="42.16" height="29.1" fill="#e6c62c"/>
<rect x="195.09" y="668.7" width="42.16" height="29.1" fill="#e69c0c"/>
<rect x="236.95" y="668.7" width="42.16" height="29.1" fill="#ec6e0a"/>
<rect x="278.82" y="668.7" width="42.16" height="29.1" fill="#ff4026"/>
<rect x="320.68" y="668.7" width="42.16" height="29.1" fill="#b53667"/>
<rect x="362.55" y="668.7" width="42.16" height="29.1" fill="#762d9c"/>
<rect x="404.41" y="668.7" width="42.16" height="29.1" fill="#4626b4"/>
<rect x="446.27" y="668.7" width="42.16" height="29.1" fill="#2a2685"/>
<rect x="488.14" y="668.7" width="42.16" height="29.1" fill="#0e0e2e"/>
<path d="M530.0 668.7 L554.0 683.2 L530.0 697.8 Z" fill="#000"/>
<path d="M69.50 668.7 V697.8" stroke="#000" stroke-width="0.9"/>
<path d="M111.36 668.7 V697.8" stroke="#000" stroke-width="0.9"/>
<path d="M153.23 668.7 V697.8" stroke="#000" stroke-width="0.9"/>
<path d="M195.09 668.7 V697.8" stroke="#000" stroke-width="0.9"/>
<path d="M236.95 668.7 V697.8" stroke="#000" stroke-width="0.9"/>
<path d="M278.82 668.7 V697.8" stroke="#000" stroke-width="0.9"/>
<path d="M320.68 668.7 V697.8" stroke="#000" stroke-width="0.9"/>
<path d="M362.55 668.7 V697.8" stroke="#000" stroke-width="0.9"/>
<path d="M404.41 668.7 V697.8" stroke="#000" stroke-width="0.9"/>
<path d="M446.27 668.7 V697.8" stroke="#000" stroke-width="0.9"/>
<path d="M488.14 668.7 V697.8" stroke="#000" stroke-width="0.9"/>
<path d="M530.00 668.7 V697.8" stroke="#000" stroke-width="0.9"/>
<path d="M69.5 668.7 L46.3 683.2 L69.5 697.8 L530.0 697.8 L554.0 683.2 L530.0 668.7 Z" fill="none" stroke="#000" stroke-width="1.4" stroke-linejoin="miter"/>
<rect x="63.0" y="70.2" width="73.0" height="30.8" fill="#c4d7dd" stroke="#6e7f86" stroke-width="1.4"/>
</svg>
<div id="box"><svg width="30" height="30" viewBox="0 0 30 30" style="left:0;top:0"><ellipse cx="13.4" cy="14.9" rx="5.6" ry="5.4" fill="none" stroke="#000" stroke-width="1.2"/><path d="M7.0 21.4 L19.9 8.5" stroke="#000" stroke-width="1.0" fill="none"/></svg><span style="left:34.6px;transform:scaleX(1.2);transform-origin:0 50%;">3.5</span></div>
<div class="tk" style="left:39.6px">0.5</div><div class="tk" style="left:123.3px">1.5</div><div class="tk" style="left:207.1px">2.5</div><div class="tk" style="left:290.8px">3.5</div><div class="tk" style="left:374.5px">4.5</div><div class="tk" style="left:458.2px">5.5</div>
<div id="lab">wmit [m/s]</div>
</body></html>
